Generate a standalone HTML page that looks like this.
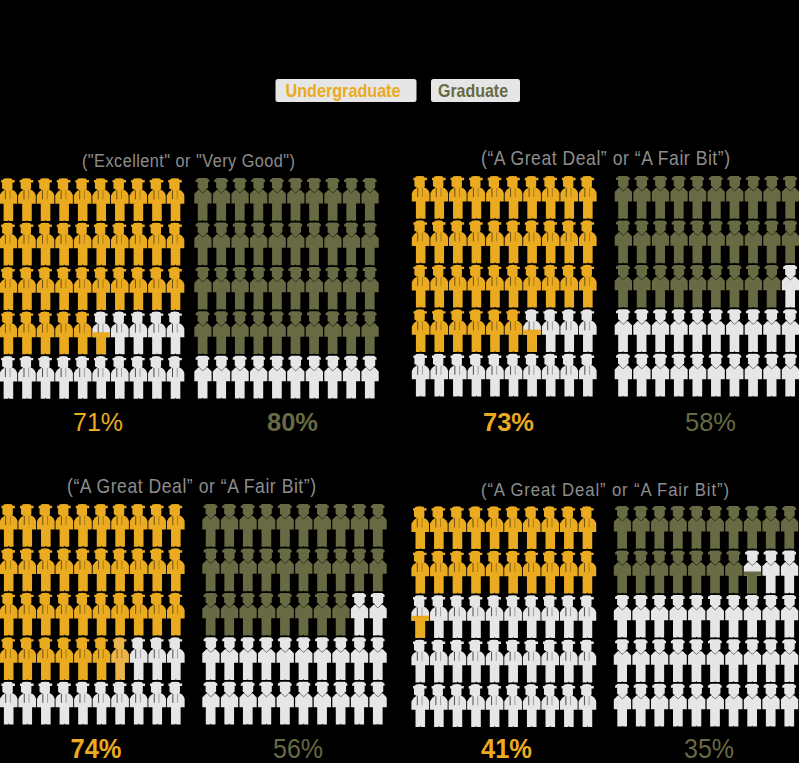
<!DOCTYPE html>
<html><head><meta charset="utf-8"><title>Infographic</title>
<style>
html,body{margin:0;padding:0;background:#000;}
body{width:799px;height:763px;overflow:hidden;}
svg{display:block;}
text{font-family:"Liberation Sans",sans-serif;}
</style></head>
<body>
<svg width="799" height="763" viewBox="0 0 799 763">
<defs>
<path id="ug" d="M4.2,0.3 Q8,-0.5 11.8,0.3 L12.8,1.8 H15 V4.2 H12.8 V10.2 L12,11.8 H5.4 L2.4,10.2 V4.2 H1.4 V1.8 H3 Z M5,11.5 H12.4 Q16.2,12.9 17.5,17 V25.5 H13.5 V42.7 H9.4 L8.75,41.6 L8.1,42.7 H3.9 V25.5 H-0.2 V17.2 Q1.4,13.3 5,11.5 Z"/>
<path id="gr" d="M4.4,0 H12.8 L15.4,1.9 V4 H14.1 V9.7 L10.6,12.6 H7 L3.6,9.7 V4 H1.6 V1.9 Z M4.3,11.8 H13.7 L17.6,15.8 V25.4 H13.5 V42.7 H9.3 L8.7,41.7 L8.1,42.7 H3.8 V25.4 H0.3 V15.8 Z"/>
</defs>
<rect width="799" height="763" fill="#000"/>
<rect x="275.5" y="79" width="141" height="23" rx="2.5" fill="#E6E6E6"/>
<text x="285.50" y="96.50" font-size="18.50" fill="#EAAB20" font-weight="bold" textLength="115.0" lengthAdjust="spacingAndGlyphs">Undergraduate</text>
<rect x="431" y="79" width="89" height="23" rx="2.5" fill="#E6E6E6"/>
<text x="438.00" y="96.50" font-size="18.50" fill="#676A42" font-weight="bold" textLength="70.0" lengthAdjust="spacingAndGlyphs">Graduate</text>
<text transform="translate(82.00,166.75) scale(0.880,1)" x="0" y="0" font-size="18.50" fill="#8D8D8D" font-weight="normal" textLength="242.0" lengthAdjust="spacing">(&quot;Excellent&quot; or &quot;Very Good&quot;)</text>
<text transform="translate(481.00,165.00) scale(0.880,1)" x="0" y="0" font-size="20.00" fill="#8D8D8D" font-weight="normal" textLength="283.0" lengthAdjust="spacing">(“A Great Deal” or “A Fair Bit”)</text>
<text transform="translate(67.00,492.80) scale(0.880,1)" x="0" y="0" font-size="20.00" fill="#8D8D8D" font-weight="normal" textLength="283.0" lengthAdjust="spacing">(“A Great Deal” or “A Fair Bit”)</text>
<text transform="translate(481.00,495.70) scale(0.880,1)" x="0" y="0" font-size="19.00" fill="#8D8D8D" font-weight="normal" textLength="281.8" lengthAdjust="spacing">(“A Great Deal” or “A Fair Bit”)</text>
<use href="#ug" x="-0.30" y="178.30" fill="#EAAB20"/>
<path d="M5.40,190.30 v9" stroke="#000" stroke-opacity="0.6" stroke-width="0.9" fill="none"/><path d="M10.10,190.30 v9" stroke="#000" stroke-opacity="0.3" stroke-width="0.9" fill="none"/>
<use href="#ug" x="18.27" y="178.30" fill="#EAAB20"/>
<path d="M23.97,190.30 v9" stroke="#000" stroke-opacity="0.6" stroke-width="0.9" fill="none"/><path d="M28.67,190.30 v9" stroke="#000" stroke-opacity="0.3" stroke-width="0.9" fill="none"/>
<use href="#ug" x="36.84" y="178.30" fill="#EAAB20"/>
<path d="M42.54,190.30 v9" stroke="#000" stroke-opacity="0.6" stroke-width="0.9" fill="none"/><path d="M47.24,190.30 v9" stroke="#000" stroke-opacity="0.3" stroke-width="0.9" fill="none"/>
<use href="#ug" x="55.41" y="178.30" fill="#EAAB20"/>
<path d="M61.11,190.30 v9" stroke="#000" stroke-opacity="0.6" stroke-width="0.9" fill="none"/><path d="M65.81,190.30 v9" stroke="#000" stroke-opacity="0.3" stroke-width="0.9" fill="none"/>
<use href="#ug" x="73.98" y="178.30" fill="#EAAB20"/>
<path d="M79.68,190.30 v9" stroke="#000" stroke-opacity="0.6" stroke-width="0.9" fill="none"/><path d="M84.38,190.30 v9" stroke="#000" stroke-opacity="0.3" stroke-width="0.9" fill="none"/>
<use href="#ug" x="92.55" y="178.30" fill="#EAAB20"/>
<path d="M98.25,190.30 v9" stroke="#000" stroke-opacity="0.6" stroke-width="0.9" fill="none"/><path d="M102.95,190.30 v9" stroke="#000" stroke-opacity="0.3" stroke-width="0.9" fill="none"/>
<use href="#ug" x="111.12" y="178.30" fill="#EAAB20"/>
<path d="M116.82,190.30 v9" stroke="#000" stroke-opacity="0.6" stroke-width="0.9" fill="none"/><path d="M121.52,190.30 v9" stroke="#000" stroke-opacity="0.3" stroke-width="0.9" fill="none"/>
<use href="#ug" x="129.69" y="178.30" fill="#EAAB20"/>
<path d="M135.39,190.30 v9" stroke="#000" stroke-opacity="0.6" stroke-width="0.9" fill="none"/><path d="M140.09,190.30 v9" stroke="#000" stroke-opacity="0.3" stroke-width="0.9" fill="none"/>
<use href="#ug" x="148.26" y="178.30" fill="#EAAB20"/>
<path d="M153.96,190.30 v9" stroke="#000" stroke-opacity="0.6" stroke-width="0.9" fill="none"/><path d="M158.66,190.30 v9" stroke="#000" stroke-opacity="0.3" stroke-width="0.9" fill="none"/>
<use href="#ug" x="166.83" y="178.30" fill="#EAAB20"/>
<path d="M172.53,190.30 v9" stroke="#000" stroke-opacity="0.6" stroke-width="0.9" fill="none"/><path d="M177.23,190.30 v9" stroke="#000" stroke-opacity="0.3" stroke-width="0.9" fill="none"/>
<use href="#ug" x="-0.30" y="222.75" fill="#EAAB20"/>
<path d="M5.40,234.75 v9" stroke="#000" stroke-opacity="0.6" stroke-width="0.9" fill="none"/><path d="M10.10,234.75 v9" stroke="#000" stroke-opacity="0.3" stroke-width="0.9" fill="none"/>
<use href="#ug" x="18.27" y="222.75" fill="#EAAB20"/>
<path d="M23.97,234.75 v9" stroke="#000" stroke-opacity="0.6" stroke-width="0.9" fill="none"/><path d="M28.67,234.75 v9" stroke="#000" stroke-opacity="0.3" stroke-width="0.9" fill="none"/>
<use href="#ug" x="36.84" y="222.75" fill="#EAAB20"/>
<path d="M42.54,234.75 v9" stroke="#000" stroke-opacity="0.6" stroke-width="0.9" fill="none"/><path d="M47.24,234.75 v9" stroke="#000" stroke-opacity="0.3" stroke-width="0.9" fill="none"/>
<use href="#ug" x="55.41" y="222.75" fill="#EAAB20"/>
<path d="M61.11,234.75 v9" stroke="#000" stroke-opacity="0.6" stroke-width="0.9" fill="none"/><path d="M65.81,234.75 v9" stroke="#000" stroke-opacity="0.3" stroke-width="0.9" fill="none"/>
<use href="#ug" x="73.98" y="222.75" fill="#EAAB20"/>
<path d="M79.68,234.75 v9" stroke="#000" stroke-opacity="0.6" stroke-width="0.9" fill="none"/><path d="M84.38,234.75 v9" stroke="#000" stroke-opacity="0.3" stroke-width="0.9" fill="none"/>
<use href="#ug" x="92.55" y="222.75" fill="#EAAB20"/>
<path d="M98.25,234.75 v9" stroke="#000" stroke-opacity="0.6" stroke-width="0.9" fill="none"/><path d="M102.95,234.75 v9" stroke="#000" stroke-opacity="0.3" stroke-width="0.9" fill="none"/>
<use href="#ug" x="111.12" y="222.75" fill="#EAAB20"/>
<path d="M116.82,234.75 v9" stroke="#000" stroke-opacity="0.6" stroke-width="0.9" fill="none"/><path d="M121.52,234.75 v9" stroke="#000" stroke-opacity="0.3" stroke-width="0.9" fill="none"/>
<use href="#ug" x="129.69" y="222.75" fill="#EAAB20"/>
<path d="M135.39,234.75 v9" stroke="#000" stroke-opacity="0.6" stroke-width="0.9" fill="none"/><path d="M140.09,234.75 v9" stroke="#000" stroke-opacity="0.3" stroke-width="0.9" fill="none"/>
<use href="#ug" x="148.26" y="222.75" fill="#EAAB20"/>
<path d="M153.96,234.75 v9" stroke="#000" stroke-opacity="0.6" stroke-width="0.9" fill="none"/><path d="M158.66,234.75 v9" stroke="#000" stroke-opacity="0.3" stroke-width="0.9" fill="none"/>
<use href="#ug" x="166.83" y="222.75" fill="#EAAB20"/>
<path d="M172.53,234.75 v9" stroke="#000" stroke-opacity="0.6" stroke-width="0.9" fill="none"/><path d="M177.23,234.75 v9" stroke="#000" stroke-opacity="0.3" stroke-width="0.9" fill="none"/>
<use href="#ug" x="-0.30" y="267.20" fill="#EAAB20"/>
<path d="M5.40,279.20 v9" stroke="#000" stroke-opacity="0.6" stroke-width="0.9" fill="none"/><path d="M10.10,279.20 v9" stroke="#000" stroke-opacity="0.3" stroke-width="0.9" fill="none"/>
<use href="#ug" x="18.27" y="267.20" fill="#EAAB20"/>
<path d="M23.97,279.20 v9" stroke="#000" stroke-opacity="0.6" stroke-width="0.9" fill="none"/><path d="M28.67,279.20 v9" stroke="#000" stroke-opacity="0.3" stroke-width="0.9" fill="none"/>
<use href="#ug" x="36.84" y="267.20" fill="#EAAB20"/>
<path d="M42.54,279.20 v9" stroke="#000" stroke-opacity="0.6" stroke-width="0.9" fill="none"/><path d="M47.24,279.20 v9" stroke="#000" stroke-opacity="0.3" stroke-width="0.9" fill="none"/>
<use href="#ug" x="55.41" y="267.20" fill="#EAAB20"/>
<path d="M61.11,279.20 v9" stroke="#000" stroke-opacity="0.6" stroke-width="0.9" fill="none"/><path d="M65.81,279.20 v9" stroke="#000" stroke-opacity="0.3" stroke-width="0.9" fill="none"/>
<use href="#ug" x="73.98" y="267.20" fill="#EAAB20"/>
<path d="M79.68,279.20 v9" stroke="#000" stroke-opacity="0.6" stroke-width="0.9" fill="none"/><path d="M84.38,279.20 v9" stroke="#000" stroke-opacity="0.3" stroke-width="0.9" fill="none"/>
<use href="#ug" x="92.55" y="267.20" fill="#EAAB20"/>
<path d="M98.25,279.20 v9" stroke="#000" stroke-opacity="0.6" stroke-width="0.9" fill="none"/><path d="M102.95,279.20 v9" stroke="#000" stroke-opacity="0.3" stroke-width="0.9" fill="none"/>
<use href="#ug" x="111.12" y="267.20" fill="#EAAB20"/>
<path d="M116.82,279.20 v9" stroke="#000" stroke-opacity="0.6" stroke-width="0.9" fill="none"/><path d="M121.52,279.20 v9" stroke="#000" stroke-opacity="0.3" stroke-width="0.9" fill="none"/>
<use href="#ug" x="129.69" y="267.20" fill="#EAAB20"/>
<path d="M135.39,279.20 v9" stroke="#000" stroke-opacity="0.6" stroke-width="0.9" fill="none"/><path d="M140.09,279.20 v9" stroke="#000" stroke-opacity="0.3" stroke-width="0.9" fill="none"/>
<use href="#ug" x="148.26" y="267.20" fill="#EAAB20"/>
<path d="M153.96,279.20 v9" stroke="#000" stroke-opacity="0.6" stroke-width="0.9" fill="none"/><path d="M158.66,279.20 v9" stroke="#000" stroke-opacity="0.3" stroke-width="0.9" fill="none"/>
<use href="#ug" x="166.83" y="267.20" fill="#EAAB20"/>
<path d="M172.53,279.20 v9" stroke="#000" stroke-opacity="0.6" stroke-width="0.9" fill="none"/><path d="M177.23,279.20 v9" stroke="#000" stroke-opacity="0.3" stroke-width="0.9" fill="none"/>
<use href="#ug" x="-0.30" y="311.65" fill="#EAAB20"/>
<path d="M5.40,323.65 v9" stroke="#000" stroke-opacity="0.6" stroke-width="0.9" fill="none"/><path d="M10.10,323.65 v9" stroke="#000" stroke-opacity="0.3" stroke-width="0.9" fill="none"/>
<use href="#ug" x="18.27" y="311.65" fill="#EAAB20"/>
<path d="M23.97,323.65 v9" stroke="#000" stroke-opacity="0.6" stroke-width="0.9" fill="none"/><path d="M28.67,323.65 v9" stroke="#000" stroke-opacity="0.3" stroke-width="0.9" fill="none"/>
<use href="#ug" x="36.84" y="311.65" fill="#EAAB20"/>
<path d="M42.54,323.65 v9" stroke="#000" stroke-opacity="0.6" stroke-width="0.9" fill="none"/><path d="M47.24,323.65 v9" stroke="#000" stroke-opacity="0.3" stroke-width="0.9" fill="none"/>
<use href="#ug" x="55.41" y="311.65" fill="#EAAB20"/>
<path d="M61.11,323.65 v9" stroke="#000" stroke-opacity="0.6" stroke-width="0.9" fill="none"/><path d="M65.81,323.65 v9" stroke="#000" stroke-opacity="0.3" stroke-width="0.9" fill="none"/>
<use href="#ug" x="73.98" y="311.65" fill="#EAAB20"/>
<path d="M79.68,323.65 v9" stroke="#000" stroke-opacity="0.6" stroke-width="0.9" fill="none"/><path d="M84.38,323.65 v9" stroke="#000" stroke-opacity="0.3" stroke-width="0.9" fill="none"/>
<use href="#ug" x="92.55" y="311.65" fill="#E6E6E6"/>
<clipPath id="cp1"><rect x="90.55" y="332.15" width="22" height="30"/></clipPath>
<g clip-path="url(#cp1)"><use href="#ug" x="92.55" y="311.65" fill="#EAAB20"/></g>
<path d="M98.25,323.65 v9" stroke="#000" stroke-opacity="0.75" stroke-width="0.9" fill="none"/><path d="M102.95,323.65 v9" stroke="#000" stroke-opacity="0.35" stroke-width="0.9" fill="none"/>
<use href="#ug" x="111.12" y="311.65" fill="#E6E6E6"/>
<path d="M116.82,323.65 v9" stroke="#000" stroke-opacity="0.75" stroke-width="0.9" fill="none"/><path d="M121.52,323.65 v9" stroke="#000" stroke-opacity="0.35" stroke-width="0.9" fill="none"/>
<use href="#ug" x="129.69" y="311.65" fill="#E6E6E6"/>
<path d="M135.39,323.65 v9" stroke="#000" stroke-opacity="0.75" stroke-width="0.9" fill="none"/><path d="M140.09,323.65 v9" stroke="#000" stroke-opacity="0.35" stroke-width="0.9" fill="none"/>
<use href="#ug" x="148.26" y="311.65" fill="#E6E6E6"/>
<path d="M153.96,323.65 v9" stroke="#000" stroke-opacity="0.75" stroke-width="0.9" fill="none"/><path d="M158.66,323.65 v9" stroke="#000" stroke-opacity="0.35" stroke-width="0.9" fill="none"/>
<use href="#ug" x="166.83" y="311.65" fill="#E6E6E6"/>
<path d="M172.53,323.65 v9" stroke="#000" stroke-opacity="0.75" stroke-width="0.9" fill="none"/><path d="M177.23,323.65 v9" stroke="#000" stroke-opacity="0.35" stroke-width="0.9" fill="none"/>
<use href="#ug" x="-0.30" y="356.10" fill="#E6E6E6"/>
<path d="M5.40,368.10 v9" stroke="#000" stroke-opacity="0.75" stroke-width="0.9" fill="none"/><path d="M10.10,368.10 v9" stroke="#000" stroke-opacity="0.35" stroke-width="0.9" fill="none"/>
<use href="#ug" x="18.27" y="356.10" fill="#E6E6E6"/>
<path d="M23.97,368.10 v9" stroke="#000" stroke-opacity="0.75" stroke-width="0.9" fill="none"/><path d="M28.67,368.10 v9" stroke="#000" stroke-opacity="0.35" stroke-width="0.9" fill="none"/>
<use href="#ug" x="36.84" y="356.10" fill="#E6E6E6"/>
<path d="M42.54,368.10 v9" stroke="#000" stroke-opacity="0.75" stroke-width="0.9" fill="none"/><path d="M47.24,368.10 v9" stroke="#000" stroke-opacity="0.35" stroke-width="0.9" fill="none"/>
<use href="#ug" x="55.41" y="356.10" fill="#E6E6E6"/>
<path d="M61.11,368.10 v9" stroke="#000" stroke-opacity="0.75" stroke-width="0.9" fill="none"/><path d="M65.81,368.10 v9" stroke="#000" stroke-opacity="0.35" stroke-width="0.9" fill="none"/>
<use href="#ug" x="73.98" y="356.10" fill="#E6E6E6"/>
<path d="M79.68,368.10 v9" stroke="#000" stroke-opacity="0.75" stroke-width="0.9" fill="none"/><path d="M84.38,368.10 v9" stroke="#000" stroke-opacity="0.35" stroke-width="0.9" fill="none"/>
<use href="#ug" x="92.55" y="356.10" fill="#E6E6E6"/>
<path d="M98.25,368.10 v9" stroke="#000" stroke-opacity="0.75" stroke-width="0.9" fill="none"/><path d="M102.95,368.10 v9" stroke="#000" stroke-opacity="0.35" stroke-width="0.9" fill="none"/>
<use href="#ug" x="111.12" y="356.10" fill="#E6E6E6"/>
<path d="M116.82,368.10 v9" stroke="#000" stroke-opacity="0.75" stroke-width="0.9" fill="none"/><path d="M121.52,368.10 v9" stroke="#000" stroke-opacity="0.35" stroke-width="0.9" fill="none"/>
<use href="#ug" x="129.69" y="356.10" fill="#E6E6E6"/>
<path d="M135.39,368.10 v9" stroke="#000" stroke-opacity="0.75" stroke-width="0.9" fill="none"/><path d="M140.09,368.10 v9" stroke="#000" stroke-opacity="0.35" stroke-width="0.9" fill="none"/>
<use href="#ug" x="148.26" y="356.10" fill="#E6E6E6"/>
<path d="M153.96,368.10 v9" stroke="#000" stroke-opacity="0.75" stroke-width="0.9" fill="none"/><path d="M158.66,368.10 v9" stroke="#000" stroke-opacity="0.35" stroke-width="0.9" fill="none"/>
<use href="#ug" x="166.83" y="356.10" fill="#E6E6E6"/>
<path d="M172.53,368.10 v9" stroke="#000" stroke-opacity="0.75" stroke-width="0.9" fill="none"/><path d="M177.23,368.10 v9" stroke="#000" stroke-opacity="0.35" stroke-width="0.9" fill="none"/>
<use href="#gr" x="194.00" y="178.00" fill="#676A42"/>
<path d="M199.60,190.20 L202.80,193.00 L206.00,190.20" stroke="#000" stroke-opacity="0.6" stroke-width="0.8" fill="none"/>
<use href="#gr" x="212.57" y="178.00" fill="#676A42"/>
<path d="M218.17,190.20 L221.37,193.00 L224.57,190.20" stroke="#000" stroke-opacity="0.6" stroke-width="0.8" fill="none"/>
<use href="#gr" x="231.14" y="178.00" fill="#676A42"/>
<path d="M236.74,190.20 L239.94,193.00 L243.14,190.20" stroke="#000" stroke-opacity="0.6" stroke-width="0.8" fill="none"/>
<use href="#gr" x="249.71" y="178.00" fill="#676A42"/>
<path d="M255.31,190.20 L258.51,193.00 L261.71,190.20" stroke="#000" stroke-opacity="0.6" stroke-width="0.8" fill="none"/>
<use href="#gr" x="268.28" y="178.00" fill="#676A42"/>
<path d="M273.88,190.20 L277.08,193.00 L280.28,190.20" stroke="#000" stroke-opacity="0.6" stroke-width="0.8" fill="none"/>
<use href="#gr" x="286.85" y="178.00" fill="#676A42"/>
<path d="M292.45,190.20 L295.65,193.00 L298.85,190.20" stroke="#000" stroke-opacity="0.6" stroke-width="0.8" fill="none"/>
<use href="#gr" x="305.42" y="178.00" fill="#676A42"/>
<path d="M311.02,190.20 L314.22,193.00 L317.42,190.20" stroke="#000" stroke-opacity="0.6" stroke-width="0.8" fill="none"/>
<use href="#gr" x="323.99" y="178.00" fill="#676A42"/>
<path d="M329.59,190.20 L332.79,193.00 L335.99,190.20" stroke="#000" stroke-opacity="0.6" stroke-width="0.8" fill="none"/>
<use href="#gr" x="342.56" y="178.00" fill="#676A42"/>
<path d="M348.16,190.20 L351.36,193.00 L354.56,190.20" stroke="#000" stroke-opacity="0.6" stroke-width="0.8" fill="none"/>
<use href="#gr" x="361.13" y="178.00" fill="#676A42"/>
<path d="M366.73,190.20 L369.93,193.00 L373.13,190.20" stroke="#000" stroke-opacity="0.6" stroke-width="0.8" fill="none"/>
<use href="#gr" x="194.00" y="222.45" fill="#676A42"/>
<path d="M199.60,234.65 L202.80,237.45 L206.00,234.65" stroke="#000" stroke-opacity="0.6" stroke-width="0.8" fill="none"/>
<use href="#gr" x="212.57" y="222.45" fill="#676A42"/>
<path d="M218.17,234.65 L221.37,237.45 L224.57,234.65" stroke="#000" stroke-opacity="0.6" stroke-width="0.8" fill="none"/>
<use href="#gr" x="231.14" y="222.45" fill="#676A42"/>
<path d="M236.74,234.65 L239.94,237.45 L243.14,234.65" stroke="#000" stroke-opacity="0.6" stroke-width="0.8" fill="none"/>
<use href="#gr" x="249.71" y="222.45" fill="#676A42"/>
<path d="M255.31,234.65 L258.51,237.45 L261.71,234.65" stroke="#000" stroke-opacity="0.6" stroke-width="0.8" fill="none"/>
<use href="#gr" x="268.28" y="222.45" fill="#676A42"/>
<path d="M273.88,234.65 L277.08,237.45 L280.28,234.65" stroke="#000" stroke-opacity="0.6" stroke-width="0.8" fill="none"/>
<use href="#gr" x="286.85" y="222.45" fill="#676A42"/>
<path d="M292.45,234.65 L295.65,237.45 L298.85,234.65" stroke="#000" stroke-opacity="0.6" stroke-width="0.8" fill="none"/>
<use href="#gr" x="305.42" y="222.45" fill="#676A42"/>
<path d="M311.02,234.65 L314.22,237.45 L317.42,234.65" stroke="#000" stroke-opacity="0.6" stroke-width="0.8" fill="none"/>
<use href="#gr" x="323.99" y="222.45" fill="#676A42"/>
<path d="M329.59,234.65 L332.79,237.45 L335.99,234.65" stroke="#000" stroke-opacity="0.6" stroke-width="0.8" fill="none"/>
<use href="#gr" x="342.56" y="222.45" fill="#676A42"/>
<path d="M348.16,234.65 L351.36,237.45 L354.56,234.65" stroke="#000" stroke-opacity="0.6" stroke-width="0.8" fill="none"/>
<use href="#gr" x="361.13" y="222.45" fill="#676A42"/>
<path d="M366.73,234.65 L369.93,237.45 L373.13,234.65" stroke="#000" stroke-opacity="0.6" stroke-width="0.8" fill="none"/>
<use href="#gr" x="194.00" y="266.90" fill="#676A42"/>
<path d="M199.60,279.10 L202.80,281.90 L206.00,279.10" stroke="#000" stroke-opacity="0.6" stroke-width="0.8" fill="none"/>
<use href="#gr" x="212.57" y="266.90" fill="#676A42"/>
<path d="M218.17,279.10 L221.37,281.90 L224.57,279.10" stroke="#000" stroke-opacity="0.6" stroke-width="0.8" fill="none"/>
<use href="#gr" x="231.14" y="266.90" fill="#676A42"/>
<path d="M236.74,279.10 L239.94,281.90 L243.14,279.10" stroke="#000" stroke-opacity="0.6" stroke-width="0.8" fill="none"/>
<use href="#gr" x="249.71" y="266.90" fill="#676A42"/>
<path d="M255.31,279.10 L258.51,281.90 L261.71,279.10" stroke="#000" stroke-opacity="0.6" stroke-width="0.8" fill="none"/>
<use href="#gr" x="268.28" y="266.90" fill="#676A42"/>
<path d="M273.88,279.10 L277.08,281.90 L280.28,279.10" stroke="#000" stroke-opacity="0.6" stroke-width="0.8" fill="none"/>
<use href="#gr" x="286.85" y="266.90" fill="#676A42"/>
<path d="M292.45,279.10 L295.65,281.90 L298.85,279.10" stroke="#000" stroke-opacity="0.6" stroke-width="0.8" fill="none"/>
<use href="#gr" x="305.42" y="266.90" fill="#676A42"/>
<path d="M311.02,279.10 L314.22,281.90 L317.42,279.10" stroke="#000" stroke-opacity="0.6" stroke-width="0.8" fill="none"/>
<use href="#gr" x="323.99" y="266.90" fill="#676A42"/>
<path d="M329.59,279.10 L332.79,281.90 L335.99,279.10" stroke="#000" stroke-opacity="0.6" stroke-width="0.8" fill="none"/>
<use href="#gr" x="342.56" y="266.90" fill="#676A42"/>
<path d="M348.16,279.10 L351.36,281.90 L354.56,279.10" stroke="#000" stroke-opacity="0.6" stroke-width="0.8" fill="none"/>
<use href="#gr" x="361.13" y="266.90" fill="#676A42"/>
<path d="M366.73,279.10 L369.93,281.90 L373.13,279.10" stroke="#000" stroke-opacity="0.6" stroke-width="0.8" fill="none"/>
<use href="#gr" x="194.00" y="311.35" fill="#676A42"/>
<path d="M199.60,323.55 L202.80,326.35 L206.00,323.55" stroke="#000" stroke-opacity="0.6" stroke-width="0.8" fill="none"/>
<use href="#gr" x="212.57" y="311.35" fill="#676A42"/>
<path d="M218.17,323.55 L221.37,326.35 L224.57,323.55" stroke="#000" stroke-opacity="0.6" stroke-width="0.8" fill="none"/>
<use href="#gr" x="231.14" y="311.35" fill="#676A42"/>
<path d="M236.74,323.55 L239.94,326.35 L243.14,323.55" stroke="#000" stroke-opacity="0.6" stroke-width="0.8" fill="none"/>
<use href="#gr" x="249.71" y="311.35" fill="#676A42"/>
<path d="M255.31,323.55 L258.51,326.35 L261.71,323.55" stroke="#000" stroke-opacity="0.6" stroke-width="0.8" fill="none"/>
<use href="#gr" x="268.28" y="311.35" fill="#676A42"/>
<path d="M273.88,323.55 L277.08,326.35 L280.28,323.55" stroke="#000" stroke-opacity="0.6" stroke-width="0.8" fill="none"/>
<use href="#gr" x="286.85" y="311.35" fill="#676A42"/>
<path d="M292.45,323.55 L295.65,326.35 L298.85,323.55" stroke="#000" stroke-opacity="0.6" stroke-width="0.8" fill="none"/>
<use href="#gr" x="305.42" y="311.35" fill="#676A42"/>
<path d="M311.02,323.55 L314.22,326.35 L317.42,323.55" stroke="#000" stroke-opacity="0.6" stroke-width="0.8" fill="none"/>
<use href="#gr" x="323.99" y="311.35" fill="#676A42"/>
<path d="M329.59,323.55 L332.79,326.35 L335.99,323.55" stroke="#000" stroke-opacity="0.6" stroke-width="0.8" fill="none"/>
<use href="#gr" x="342.56" y="311.35" fill="#676A42"/>
<path d="M348.16,323.55 L351.36,326.35 L354.56,323.55" stroke="#000" stroke-opacity="0.6" stroke-width="0.8" fill="none"/>
<use href="#gr" x="361.13" y="311.35" fill="#676A42"/>
<path d="M366.73,323.55 L369.93,326.35 L373.13,323.55" stroke="#000" stroke-opacity="0.6" stroke-width="0.8" fill="none"/>
<use href="#gr" x="194.00" y="355.80" fill="#E6E6E6"/>
<path d="M199.60,368.00 L202.80,370.80 L206.00,368.00" stroke="#000" stroke-opacity="0.6" stroke-width="0.8" fill="none"/>
<use href="#gr" x="212.57" y="355.80" fill="#E6E6E6"/>
<path d="M218.17,368.00 L221.37,370.80 L224.57,368.00" stroke="#000" stroke-opacity="0.6" stroke-width="0.8" fill="none"/>
<use href="#gr" x="231.14" y="355.80" fill="#E6E6E6"/>
<path d="M236.74,368.00 L239.94,370.80 L243.14,368.00" stroke="#000" stroke-opacity="0.6" stroke-width="0.8" fill="none"/>
<use href="#gr" x="249.71" y="355.80" fill="#E6E6E6"/>
<path d="M255.31,368.00 L258.51,370.80 L261.71,368.00" stroke="#000" stroke-opacity="0.6" stroke-width="0.8" fill="none"/>
<use href="#gr" x="268.28" y="355.80" fill="#E6E6E6"/>
<path d="M273.88,368.00 L277.08,370.80 L280.28,368.00" stroke="#000" stroke-opacity="0.6" stroke-width="0.8" fill="none"/>
<use href="#gr" x="286.85" y="355.80" fill="#E6E6E6"/>
<path d="M292.45,368.00 L295.65,370.80 L298.85,368.00" stroke="#000" stroke-opacity="0.6" stroke-width="0.8" fill="none"/>
<use href="#gr" x="305.42" y="355.80" fill="#E6E6E6"/>
<path d="M311.02,368.00 L314.22,370.80 L317.42,368.00" stroke="#000" stroke-opacity="0.6" stroke-width="0.8" fill="none"/>
<use href="#gr" x="323.99" y="355.80" fill="#E6E6E6"/>
<path d="M329.59,368.00 L332.79,370.80 L335.99,368.00" stroke="#000" stroke-opacity="0.6" stroke-width="0.8" fill="none"/>
<use href="#gr" x="342.56" y="355.80" fill="#E6E6E6"/>
<path d="M348.16,368.00 L351.36,370.80 L354.56,368.00" stroke="#000" stroke-opacity="0.6" stroke-width="0.8" fill="none"/>
<use href="#gr" x="361.13" y="355.80" fill="#E6E6E6"/>
<path d="M366.73,368.00 L369.93,370.80 L373.13,368.00" stroke="#000" stroke-opacity="0.6" stroke-width="0.8" fill="none"/>
<use href="#ug" x="412.00" y="176.00" fill="#EAAB20"/>
<path d="M417.70,188.00 v9" stroke="#000" stroke-opacity="0.6" stroke-width="0.9" fill="none"/><path d="M422.40,188.00 v9" stroke="#000" stroke-opacity="0.3" stroke-width="0.9" fill="none"/>
<use href="#ug" x="430.57" y="176.00" fill="#EAAB20"/>
<path d="M436.27,188.00 v9" stroke="#000" stroke-opacity="0.6" stroke-width="0.9" fill="none"/><path d="M440.97,188.00 v9" stroke="#000" stroke-opacity="0.3" stroke-width="0.9" fill="none"/>
<use href="#ug" x="449.14" y="176.00" fill="#EAAB20"/>
<path d="M454.84,188.00 v9" stroke="#000" stroke-opacity="0.6" stroke-width="0.9" fill="none"/><path d="M459.54,188.00 v9" stroke="#000" stroke-opacity="0.3" stroke-width="0.9" fill="none"/>
<use href="#ug" x="467.71" y="176.00" fill="#EAAB20"/>
<path d="M473.41,188.00 v9" stroke="#000" stroke-opacity="0.6" stroke-width="0.9" fill="none"/><path d="M478.11,188.00 v9" stroke="#000" stroke-opacity="0.3" stroke-width="0.9" fill="none"/>
<use href="#ug" x="486.28" y="176.00" fill="#EAAB20"/>
<path d="M491.98,188.00 v9" stroke="#000" stroke-opacity="0.6" stroke-width="0.9" fill="none"/><path d="M496.68,188.00 v9" stroke="#000" stroke-opacity="0.3" stroke-width="0.9" fill="none"/>
<use href="#ug" x="504.85" y="176.00" fill="#EAAB20"/>
<path d="M510.55,188.00 v9" stroke="#000" stroke-opacity="0.6" stroke-width="0.9" fill="none"/><path d="M515.25,188.00 v9" stroke="#000" stroke-opacity="0.3" stroke-width="0.9" fill="none"/>
<use href="#ug" x="523.42" y="176.00" fill="#EAAB20"/>
<path d="M529.12,188.00 v9" stroke="#000" stroke-opacity="0.6" stroke-width="0.9" fill="none"/><path d="M533.82,188.00 v9" stroke="#000" stroke-opacity="0.3" stroke-width="0.9" fill="none"/>
<use href="#ug" x="541.99" y="176.00" fill="#EAAB20"/>
<path d="M547.69,188.00 v9" stroke="#000" stroke-opacity="0.6" stroke-width="0.9" fill="none"/><path d="M552.39,188.00 v9" stroke="#000" stroke-opacity="0.3" stroke-width="0.9" fill="none"/>
<use href="#ug" x="560.56" y="176.00" fill="#EAAB20"/>
<path d="M566.26,188.00 v9" stroke="#000" stroke-opacity="0.6" stroke-width="0.9" fill="none"/><path d="M570.96,188.00 v9" stroke="#000" stroke-opacity="0.3" stroke-width="0.9" fill="none"/>
<use href="#ug" x="579.13" y="176.00" fill="#EAAB20"/>
<path d="M584.83,188.00 v9" stroke="#000" stroke-opacity="0.6" stroke-width="0.9" fill="none"/><path d="M589.53,188.00 v9" stroke="#000" stroke-opacity="0.3" stroke-width="0.9" fill="none"/>
<use href="#ug" x="412.00" y="220.45" fill="#EAAB20"/>
<path d="M417.70,232.45 v9" stroke="#000" stroke-opacity="0.6" stroke-width="0.9" fill="none"/><path d="M422.40,232.45 v9" stroke="#000" stroke-opacity="0.3" stroke-width="0.9" fill="none"/>
<use href="#ug" x="430.57" y="220.45" fill="#EAAB20"/>
<path d="M436.27,232.45 v9" stroke="#000" stroke-opacity="0.6" stroke-width="0.9" fill="none"/><path d="M440.97,232.45 v9" stroke="#000" stroke-opacity="0.3" stroke-width="0.9" fill="none"/>
<use href="#ug" x="449.14" y="220.45" fill="#EAAB20"/>
<path d="M454.84,232.45 v9" stroke="#000" stroke-opacity="0.6" stroke-width="0.9" fill="none"/><path d="M459.54,232.45 v9" stroke="#000" stroke-opacity="0.3" stroke-width="0.9" fill="none"/>
<use href="#ug" x="467.71" y="220.45" fill="#EAAB20"/>
<path d="M473.41,232.45 v9" stroke="#000" stroke-opacity="0.6" stroke-width="0.9" fill="none"/><path d="M478.11,232.45 v9" stroke="#000" stroke-opacity="0.3" stroke-width="0.9" fill="none"/>
<use href="#ug" x="486.28" y="220.45" fill="#EAAB20"/>
<path d="M491.98,232.45 v9" stroke="#000" stroke-opacity="0.6" stroke-width="0.9" fill="none"/><path d="M496.68,232.45 v9" stroke="#000" stroke-opacity="0.3" stroke-width="0.9" fill="none"/>
<use href="#ug" x="504.85" y="220.45" fill="#EAAB20"/>
<path d="M510.55,232.45 v9" stroke="#000" stroke-opacity="0.6" stroke-width="0.9" fill="none"/><path d="M515.25,232.45 v9" stroke="#000" stroke-opacity="0.3" stroke-width="0.9" fill="none"/>
<use href="#ug" x="523.42" y="220.45" fill="#EAAB20"/>
<path d="M529.12,232.45 v9" stroke="#000" stroke-opacity="0.6" stroke-width="0.9" fill="none"/><path d="M533.82,232.45 v9" stroke="#000" stroke-opacity="0.3" stroke-width="0.9" fill="none"/>
<use href="#ug" x="541.99" y="220.45" fill="#EAAB20"/>
<path d="M547.69,232.45 v9" stroke="#000" stroke-opacity="0.6" stroke-width="0.9" fill="none"/><path d="M552.39,232.45 v9" stroke="#000" stroke-opacity="0.3" stroke-width="0.9" fill="none"/>
<use href="#ug" x="560.56" y="220.45" fill="#EAAB20"/>
<path d="M566.26,232.45 v9" stroke="#000" stroke-opacity="0.6" stroke-width="0.9" fill="none"/><path d="M570.96,232.45 v9" stroke="#000" stroke-opacity="0.3" stroke-width="0.9" fill="none"/>
<use href="#ug" x="579.13" y="220.45" fill="#EAAB20"/>
<path d="M584.83,232.45 v9" stroke="#000" stroke-opacity="0.6" stroke-width="0.9" fill="none"/><path d="M589.53,232.45 v9" stroke="#000" stroke-opacity="0.3" stroke-width="0.9" fill="none"/>
<use href="#ug" x="412.00" y="264.90" fill="#EAAB20"/>
<path d="M417.70,276.90 v9" stroke="#000" stroke-opacity="0.6" stroke-width="0.9" fill="none"/><path d="M422.40,276.90 v9" stroke="#000" stroke-opacity="0.3" stroke-width="0.9" fill="none"/>
<use href="#ug" x="430.57" y="264.90" fill="#EAAB20"/>
<path d="M436.27,276.90 v9" stroke="#000" stroke-opacity="0.6" stroke-width="0.9" fill="none"/><path d="M440.97,276.90 v9" stroke="#000" stroke-opacity="0.3" stroke-width="0.9" fill="none"/>
<use href="#ug" x="449.14" y="264.90" fill="#EAAB20"/>
<path d="M454.84,276.90 v9" stroke="#000" stroke-opacity="0.6" stroke-width="0.9" fill="none"/><path d="M459.54,276.90 v9" stroke="#000" stroke-opacity="0.3" stroke-width="0.9" fill="none"/>
<use href="#ug" x="467.71" y="264.90" fill="#EAAB20"/>
<path d="M473.41,276.90 v9" stroke="#000" stroke-opacity="0.6" stroke-width="0.9" fill="none"/><path d="M478.11,276.90 v9" stroke="#000" stroke-opacity="0.3" stroke-width="0.9" fill="none"/>
<use href="#ug" x="486.28" y="264.90" fill="#EAAB20"/>
<path d="M491.98,276.90 v9" stroke="#000" stroke-opacity="0.6" stroke-width="0.9" fill="none"/><path d="M496.68,276.90 v9" stroke="#000" stroke-opacity="0.3" stroke-width="0.9" fill="none"/>
<use href="#ug" x="504.85" y="264.90" fill="#EAAB20"/>
<path d="M510.55,276.90 v9" stroke="#000" stroke-opacity="0.6" stroke-width="0.9" fill="none"/><path d="M515.25,276.90 v9" stroke="#000" stroke-opacity="0.3" stroke-width="0.9" fill="none"/>
<use href="#ug" x="523.42" y="264.90" fill="#EAAB20"/>
<path d="M529.12,276.90 v9" stroke="#000" stroke-opacity="0.6" stroke-width="0.9" fill="none"/><path d="M533.82,276.90 v9" stroke="#000" stroke-opacity="0.3" stroke-width="0.9" fill="none"/>
<use href="#ug" x="541.99" y="264.90" fill="#EAAB20"/>
<path d="M547.69,276.90 v9" stroke="#000" stroke-opacity="0.6" stroke-width="0.9" fill="none"/><path d="M552.39,276.90 v9" stroke="#000" stroke-opacity="0.3" stroke-width="0.9" fill="none"/>
<use href="#ug" x="560.56" y="264.90" fill="#EAAB20"/>
<path d="M566.26,276.90 v9" stroke="#000" stroke-opacity="0.6" stroke-width="0.9" fill="none"/><path d="M570.96,276.90 v9" stroke="#000" stroke-opacity="0.3" stroke-width="0.9" fill="none"/>
<use href="#ug" x="579.13" y="264.90" fill="#EAAB20"/>
<path d="M584.83,276.90 v9" stroke="#000" stroke-opacity="0.6" stroke-width="0.9" fill="none"/><path d="M589.53,276.90 v9" stroke="#000" stroke-opacity="0.3" stroke-width="0.9" fill="none"/>
<use href="#ug" x="412.00" y="309.35" fill="#EAAB20"/>
<path d="M417.70,321.35 v9" stroke="#000" stroke-opacity="0.6" stroke-width="0.9" fill="none"/><path d="M422.40,321.35 v9" stroke="#000" stroke-opacity="0.3" stroke-width="0.9" fill="none"/>
<use href="#ug" x="430.57" y="309.35" fill="#EAAB20"/>
<path d="M436.27,321.35 v9" stroke="#000" stroke-opacity="0.6" stroke-width="0.9" fill="none"/><path d="M440.97,321.35 v9" stroke="#000" stroke-opacity="0.3" stroke-width="0.9" fill="none"/>
<use href="#ug" x="449.14" y="309.35" fill="#EAAB20"/>
<path d="M454.84,321.35 v9" stroke="#000" stroke-opacity="0.6" stroke-width="0.9" fill="none"/><path d="M459.54,321.35 v9" stroke="#000" stroke-opacity="0.3" stroke-width="0.9" fill="none"/>
<use href="#ug" x="467.71" y="309.35" fill="#EAAB20"/>
<path d="M473.41,321.35 v9" stroke="#000" stroke-opacity="0.6" stroke-width="0.9" fill="none"/><path d="M478.11,321.35 v9" stroke="#000" stroke-opacity="0.3" stroke-width="0.9" fill="none"/>
<use href="#ug" x="486.28" y="309.35" fill="#EAAB20"/>
<path d="M491.98,321.35 v9" stroke="#000" stroke-opacity="0.6" stroke-width="0.9" fill="none"/><path d="M496.68,321.35 v9" stroke="#000" stroke-opacity="0.3" stroke-width="0.9" fill="none"/>
<use href="#ug" x="504.85" y="309.35" fill="#EAAB20"/>
<path d="M510.55,321.35 v9" stroke="#000" stroke-opacity="0.6" stroke-width="0.9" fill="none"/><path d="M515.25,321.35 v9" stroke="#000" stroke-opacity="0.3" stroke-width="0.9" fill="none"/>
<use href="#ug" x="523.42" y="309.35" fill="#E6E6E6"/>
<clipPath id="cp2"><rect x="521.42" y="329.85" width="22" height="30"/></clipPath>
<g clip-path="url(#cp2)"><use href="#ug" x="523.42" y="309.35" fill="#EAAB20"/></g>
<path d="M529.12,321.35 v9" stroke="#000" stroke-opacity="0.75" stroke-width="0.9" fill="none"/><path d="M533.82,321.35 v9" stroke="#000" stroke-opacity="0.35" stroke-width="0.9" fill="none"/>
<use href="#ug" x="541.99" y="309.35" fill="#E6E6E6"/>
<path d="M547.69,321.35 v9" stroke="#000" stroke-opacity="0.75" stroke-width="0.9" fill="none"/><path d="M552.39,321.35 v9" stroke="#000" stroke-opacity="0.35" stroke-width="0.9" fill="none"/>
<use href="#ug" x="560.56" y="309.35" fill="#E6E6E6"/>
<path d="M566.26,321.35 v9" stroke="#000" stroke-opacity="0.75" stroke-width="0.9" fill="none"/><path d="M570.96,321.35 v9" stroke="#000" stroke-opacity="0.35" stroke-width="0.9" fill="none"/>
<use href="#ug" x="579.13" y="309.35" fill="#E6E6E6"/>
<path d="M584.83,321.35 v9" stroke="#000" stroke-opacity="0.75" stroke-width="0.9" fill="none"/><path d="M589.53,321.35 v9" stroke="#000" stroke-opacity="0.35" stroke-width="0.9" fill="none"/>
<use href="#ug" x="412.00" y="353.80" fill="#E6E6E6"/>
<path d="M417.70,365.80 v9" stroke="#000" stroke-opacity="0.75" stroke-width="0.9" fill="none"/><path d="M422.40,365.80 v9" stroke="#000" stroke-opacity="0.35" stroke-width="0.9" fill="none"/>
<use href="#ug" x="430.57" y="353.80" fill="#E6E6E6"/>
<path d="M436.27,365.80 v9" stroke="#000" stroke-opacity="0.75" stroke-width="0.9" fill="none"/><path d="M440.97,365.80 v9" stroke="#000" stroke-opacity="0.35" stroke-width="0.9" fill="none"/>
<use href="#ug" x="449.14" y="353.80" fill="#E6E6E6"/>
<path d="M454.84,365.80 v9" stroke="#000" stroke-opacity="0.75" stroke-width="0.9" fill="none"/><path d="M459.54,365.80 v9" stroke="#000" stroke-opacity="0.35" stroke-width="0.9" fill="none"/>
<use href="#ug" x="467.71" y="353.80" fill="#E6E6E6"/>
<path d="M473.41,365.80 v9" stroke="#000" stroke-opacity="0.75" stroke-width="0.9" fill="none"/><path d="M478.11,365.80 v9" stroke="#000" stroke-opacity="0.35" stroke-width="0.9" fill="none"/>
<use href="#ug" x="486.28" y="353.80" fill="#E6E6E6"/>
<path d="M491.98,365.80 v9" stroke="#000" stroke-opacity="0.75" stroke-width="0.9" fill="none"/><path d="M496.68,365.80 v9" stroke="#000" stroke-opacity="0.35" stroke-width="0.9" fill="none"/>
<use href="#ug" x="504.85" y="353.80" fill="#E6E6E6"/>
<path d="M510.55,365.80 v9" stroke="#000" stroke-opacity="0.75" stroke-width="0.9" fill="none"/><path d="M515.25,365.80 v9" stroke="#000" stroke-opacity="0.35" stroke-width="0.9" fill="none"/>
<use href="#ug" x="523.42" y="353.80" fill="#E6E6E6"/>
<path d="M529.12,365.80 v9" stroke="#000" stroke-opacity="0.75" stroke-width="0.9" fill="none"/><path d="M533.82,365.80 v9" stroke="#000" stroke-opacity="0.35" stroke-width="0.9" fill="none"/>
<use href="#ug" x="541.99" y="353.80" fill="#E6E6E6"/>
<path d="M547.69,365.80 v9" stroke="#000" stroke-opacity="0.75" stroke-width="0.9" fill="none"/><path d="M552.39,365.80 v9" stroke="#000" stroke-opacity="0.35" stroke-width="0.9" fill="none"/>
<use href="#ug" x="560.56" y="353.80" fill="#E6E6E6"/>
<path d="M566.26,365.80 v9" stroke="#000" stroke-opacity="0.75" stroke-width="0.9" fill="none"/><path d="M570.96,365.80 v9" stroke="#000" stroke-opacity="0.35" stroke-width="0.9" fill="none"/>
<use href="#ug" x="579.13" y="353.80" fill="#E6E6E6"/>
<path d="M584.83,365.80 v9" stroke="#000" stroke-opacity="0.75" stroke-width="0.9" fill="none"/><path d="M589.53,365.80 v9" stroke="#000" stroke-opacity="0.35" stroke-width="0.9" fill="none"/>
<use href="#gr" x="614.40" y="176.00" fill="#676A42"/>
<path d="M620.00,188.20 L623.20,191.00 L626.40,188.20" stroke="#000" stroke-opacity="0.6" stroke-width="0.8" fill="none"/>
<use href="#gr" x="632.97" y="176.00" fill="#676A42"/>
<path d="M638.57,188.20 L641.77,191.00 L644.97,188.20" stroke="#000" stroke-opacity="0.6" stroke-width="0.8" fill="none"/>
<use href="#gr" x="651.54" y="176.00" fill="#676A42"/>
<path d="M657.14,188.20 L660.34,191.00 L663.54,188.20" stroke="#000" stroke-opacity="0.6" stroke-width="0.8" fill="none"/>
<use href="#gr" x="670.11" y="176.00" fill="#676A42"/>
<path d="M675.71,188.20 L678.91,191.00 L682.11,188.20" stroke="#000" stroke-opacity="0.6" stroke-width="0.8" fill="none"/>
<use href="#gr" x="688.68" y="176.00" fill="#676A42"/>
<path d="M694.28,188.20 L697.48,191.00 L700.68,188.20" stroke="#000" stroke-opacity="0.6" stroke-width="0.8" fill="none"/>
<use href="#gr" x="707.25" y="176.00" fill="#676A42"/>
<path d="M712.85,188.20 L716.05,191.00 L719.25,188.20" stroke="#000" stroke-opacity="0.6" stroke-width="0.8" fill="none"/>
<use href="#gr" x="725.82" y="176.00" fill="#676A42"/>
<path d="M731.42,188.20 L734.62,191.00 L737.82,188.20" stroke="#000" stroke-opacity="0.6" stroke-width="0.8" fill="none"/>
<use href="#gr" x="744.39" y="176.00" fill="#676A42"/>
<path d="M749.99,188.20 L753.19,191.00 L756.39,188.20" stroke="#000" stroke-opacity="0.6" stroke-width="0.8" fill="none"/>
<use href="#gr" x="762.96" y="176.00" fill="#676A42"/>
<path d="M768.56,188.20 L771.76,191.00 L774.96,188.20" stroke="#000" stroke-opacity="0.6" stroke-width="0.8" fill="none"/>
<use href="#gr" x="781.53" y="176.00" fill="#676A42"/>
<path d="M787.13,188.20 L790.33,191.00 L793.53,188.20" stroke="#000" stroke-opacity="0.6" stroke-width="0.8" fill="none"/>
<use href="#gr" x="614.40" y="220.45" fill="#676A42"/>
<path d="M620.00,232.65 L623.20,235.45 L626.40,232.65" stroke="#000" stroke-opacity="0.6" stroke-width="0.8" fill="none"/>
<use href="#gr" x="632.97" y="220.45" fill="#676A42"/>
<path d="M638.57,232.65 L641.77,235.45 L644.97,232.65" stroke="#000" stroke-opacity="0.6" stroke-width="0.8" fill="none"/>
<use href="#gr" x="651.54" y="220.45" fill="#676A42"/>
<path d="M657.14,232.65 L660.34,235.45 L663.54,232.65" stroke="#000" stroke-opacity="0.6" stroke-width="0.8" fill="none"/>
<use href="#gr" x="670.11" y="220.45" fill="#676A42"/>
<path d="M675.71,232.65 L678.91,235.45 L682.11,232.65" stroke="#000" stroke-opacity="0.6" stroke-width="0.8" fill="none"/>
<use href="#gr" x="688.68" y="220.45" fill="#676A42"/>
<path d="M694.28,232.65 L697.48,235.45 L700.68,232.65" stroke="#000" stroke-opacity="0.6" stroke-width="0.8" fill="none"/>
<use href="#gr" x="707.25" y="220.45" fill="#676A42"/>
<path d="M712.85,232.65 L716.05,235.45 L719.25,232.65" stroke="#000" stroke-opacity="0.6" stroke-width="0.8" fill="none"/>
<use href="#gr" x="725.82" y="220.45" fill="#676A42"/>
<path d="M731.42,232.65 L734.62,235.45 L737.82,232.65" stroke="#000" stroke-opacity="0.6" stroke-width="0.8" fill="none"/>
<use href="#gr" x="744.39" y="220.45" fill="#676A42"/>
<path d="M749.99,232.65 L753.19,235.45 L756.39,232.65" stroke="#000" stroke-opacity="0.6" stroke-width="0.8" fill="none"/>
<use href="#gr" x="762.96" y="220.45" fill="#676A42"/>
<path d="M768.56,232.65 L771.76,235.45 L774.96,232.65" stroke="#000" stroke-opacity="0.6" stroke-width="0.8" fill="none"/>
<use href="#gr" x="781.53" y="220.45" fill="#676A42"/>
<path d="M787.13,232.65 L790.33,235.45 L793.53,232.65" stroke="#000" stroke-opacity="0.6" stroke-width="0.8" fill="none"/>
<use href="#gr" x="614.40" y="264.90" fill="#676A42"/>
<path d="M620.00,277.10 L623.20,279.90 L626.40,277.10" stroke="#000" stroke-opacity="0.6" stroke-width="0.8" fill="none"/>
<use href="#gr" x="632.97" y="264.90" fill="#676A42"/>
<path d="M638.57,277.10 L641.77,279.90 L644.97,277.10" stroke="#000" stroke-opacity="0.6" stroke-width="0.8" fill="none"/>
<use href="#gr" x="651.54" y="264.90" fill="#676A42"/>
<path d="M657.14,277.10 L660.34,279.90 L663.54,277.10" stroke="#000" stroke-opacity="0.6" stroke-width="0.8" fill="none"/>
<use href="#gr" x="670.11" y="264.90" fill="#676A42"/>
<path d="M675.71,277.10 L678.91,279.90 L682.11,277.10" stroke="#000" stroke-opacity="0.6" stroke-width="0.8" fill="none"/>
<use href="#gr" x="688.68" y="264.90" fill="#676A42"/>
<path d="M694.28,277.10 L697.48,279.90 L700.68,277.10" stroke="#000" stroke-opacity="0.6" stroke-width="0.8" fill="none"/>
<use href="#gr" x="707.25" y="264.90" fill="#676A42"/>
<path d="M712.85,277.10 L716.05,279.90 L719.25,277.10" stroke="#000" stroke-opacity="0.6" stroke-width="0.8" fill="none"/>
<use href="#gr" x="725.82" y="264.90" fill="#676A42"/>
<path d="M731.42,277.10 L734.62,279.90 L737.82,277.10" stroke="#000" stroke-opacity="0.6" stroke-width="0.8" fill="none"/>
<use href="#gr" x="744.39" y="264.90" fill="#676A42"/>
<path d="M749.99,277.10 L753.19,279.90 L756.39,277.10" stroke="#000" stroke-opacity="0.6" stroke-width="0.8" fill="none"/>
<use href="#gr" x="762.96" y="264.90" fill="#676A42"/>
<path d="M768.56,277.10 L771.76,279.90 L774.96,277.10" stroke="#000" stroke-opacity="0.6" stroke-width="0.8" fill="none"/>
<use href="#gr" x="781.53" y="264.90" fill="#E6E6E6"/>
<path d="M787.13,277.10 L790.33,279.90 L793.53,277.10" stroke="#000" stroke-opacity="0.6" stroke-width="0.8" fill="none"/>
<use href="#gr" x="614.40" y="309.35" fill="#E6E6E6"/>
<path d="M620.00,321.55 L623.20,324.35 L626.40,321.55" stroke="#000" stroke-opacity="0.6" stroke-width="0.8" fill="none"/>
<use href="#gr" x="632.97" y="309.35" fill="#E6E6E6"/>
<path d="M638.57,321.55 L641.77,324.35 L644.97,321.55" stroke="#000" stroke-opacity="0.6" stroke-width="0.8" fill="none"/>
<use href="#gr" x="651.54" y="309.35" fill="#E6E6E6"/>
<path d="M657.14,321.55 L660.34,324.35 L663.54,321.55" stroke="#000" stroke-opacity="0.6" stroke-width="0.8" fill="none"/>
<use href="#gr" x="670.11" y="309.35" fill="#E6E6E6"/>
<path d="M675.71,321.55 L678.91,324.35 L682.11,321.55" stroke="#000" stroke-opacity="0.6" stroke-width="0.8" fill="none"/>
<use href="#gr" x="688.68" y="309.35" fill="#E6E6E6"/>
<path d="M694.28,321.55 L697.48,324.35 L700.68,321.55" stroke="#000" stroke-opacity="0.6" stroke-width="0.8" fill="none"/>
<use href="#gr" x="707.25" y="309.35" fill="#E6E6E6"/>
<path d="M712.85,321.55 L716.05,324.35 L719.25,321.55" stroke="#000" stroke-opacity="0.6" stroke-width="0.8" fill="none"/>
<use href="#gr" x="725.82" y="309.35" fill="#E6E6E6"/>
<path d="M731.42,321.55 L734.62,324.35 L737.82,321.55" stroke="#000" stroke-opacity="0.6" stroke-width="0.8" fill="none"/>
<use href="#gr" x="744.39" y="309.35" fill="#E6E6E6"/>
<path d="M749.99,321.55 L753.19,324.35 L756.39,321.55" stroke="#000" stroke-opacity="0.6" stroke-width="0.8" fill="none"/>
<use href="#gr" x="762.96" y="309.35" fill="#E6E6E6"/>
<path d="M768.56,321.55 L771.76,324.35 L774.96,321.55" stroke="#000" stroke-opacity="0.6" stroke-width="0.8" fill="none"/>
<use href="#gr" x="781.53" y="309.35" fill="#E6E6E6"/>
<path d="M787.13,321.55 L790.33,324.35 L793.53,321.55" stroke="#000" stroke-opacity="0.6" stroke-width="0.8" fill="none"/>
<use href="#gr" x="614.40" y="353.80" fill="#E6E6E6"/>
<path d="M620.00,366.00 L623.20,368.80 L626.40,366.00" stroke="#000" stroke-opacity="0.6" stroke-width="0.8" fill="none"/>
<use href="#gr" x="632.97" y="353.80" fill="#E6E6E6"/>
<path d="M638.57,366.00 L641.77,368.80 L644.97,366.00" stroke="#000" stroke-opacity="0.6" stroke-width="0.8" fill="none"/>
<use href="#gr" x="651.54" y="353.80" fill="#E6E6E6"/>
<path d="M657.14,366.00 L660.34,368.80 L663.54,366.00" stroke="#000" stroke-opacity="0.6" stroke-width="0.8" fill="none"/>
<use href="#gr" x="670.11" y="353.80" fill="#E6E6E6"/>
<path d="M675.71,366.00 L678.91,368.80 L682.11,366.00" stroke="#000" stroke-opacity="0.6" stroke-width="0.8" fill="none"/>
<use href="#gr" x="688.68" y="353.80" fill="#E6E6E6"/>
<path d="M694.28,366.00 L697.48,368.80 L700.68,366.00" stroke="#000" stroke-opacity="0.6" stroke-width="0.8" fill="none"/>
<use href="#gr" x="707.25" y="353.80" fill="#E6E6E6"/>
<path d="M712.85,366.00 L716.05,368.80 L719.25,366.00" stroke="#000" stroke-opacity="0.6" stroke-width="0.8" fill="none"/>
<use href="#gr" x="725.82" y="353.80" fill="#E6E6E6"/>
<path d="M731.42,366.00 L734.62,368.80 L737.82,366.00" stroke="#000" stroke-opacity="0.6" stroke-width="0.8" fill="none"/>
<use href="#gr" x="744.39" y="353.80" fill="#E6E6E6"/>
<path d="M749.99,366.00 L753.19,368.80 L756.39,366.00" stroke="#000" stroke-opacity="0.6" stroke-width="0.8" fill="none"/>
<use href="#gr" x="762.96" y="353.80" fill="#E6E6E6"/>
<path d="M768.56,366.00 L771.76,368.80 L774.96,366.00" stroke="#000" stroke-opacity="0.6" stroke-width="0.8" fill="none"/>
<use href="#gr" x="781.53" y="353.80" fill="#E6E6E6"/>
<path d="M787.13,366.00 L790.33,368.80 L793.53,366.00" stroke="#000" stroke-opacity="0.6" stroke-width="0.8" fill="none"/>
<use href="#ug" x="0.00" y="504.00" fill="#EAAB20"/>
<path d="M5.70,516.00 v9" stroke="#000" stroke-opacity="0.6" stroke-width="0.9" fill="none"/><path d="M10.40,516.00 v9" stroke="#000" stroke-opacity="0.3" stroke-width="0.9" fill="none"/>
<use href="#ug" x="18.57" y="504.00" fill="#EAAB20"/>
<path d="M24.27,516.00 v9" stroke="#000" stroke-opacity="0.6" stroke-width="0.9" fill="none"/><path d="M28.97,516.00 v9" stroke="#000" stroke-opacity="0.3" stroke-width="0.9" fill="none"/>
<use href="#ug" x="37.14" y="504.00" fill="#EAAB20"/>
<path d="M42.84,516.00 v9" stroke="#000" stroke-opacity="0.6" stroke-width="0.9" fill="none"/><path d="M47.54,516.00 v9" stroke="#000" stroke-opacity="0.3" stroke-width="0.9" fill="none"/>
<use href="#ug" x="55.71" y="504.00" fill="#EAAB20"/>
<path d="M61.41,516.00 v9" stroke="#000" stroke-opacity="0.6" stroke-width="0.9" fill="none"/><path d="M66.11,516.00 v9" stroke="#000" stroke-opacity="0.3" stroke-width="0.9" fill="none"/>
<use href="#ug" x="74.28" y="504.00" fill="#EAAB20"/>
<path d="M79.98,516.00 v9" stroke="#000" stroke-opacity="0.6" stroke-width="0.9" fill="none"/><path d="M84.68,516.00 v9" stroke="#000" stroke-opacity="0.3" stroke-width="0.9" fill="none"/>
<use href="#ug" x="92.85" y="504.00" fill="#EAAB20"/>
<path d="M98.55,516.00 v9" stroke="#000" stroke-opacity="0.6" stroke-width="0.9" fill="none"/><path d="M103.25,516.00 v9" stroke="#000" stroke-opacity="0.3" stroke-width="0.9" fill="none"/>
<use href="#ug" x="111.42" y="504.00" fill="#EAAB20"/>
<path d="M117.12,516.00 v9" stroke="#000" stroke-opacity="0.6" stroke-width="0.9" fill="none"/><path d="M121.82,516.00 v9" stroke="#000" stroke-opacity="0.3" stroke-width="0.9" fill="none"/>
<use href="#ug" x="129.99" y="504.00" fill="#EAAB20"/>
<path d="M135.69,516.00 v9" stroke="#000" stroke-opacity="0.6" stroke-width="0.9" fill="none"/><path d="M140.39,516.00 v9" stroke="#000" stroke-opacity="0.3" stroke-width="0.9" fill="none"/>
<use href="#ug" x="148.56" y="504.00" fill="#EAAB20"/>
<path d="M154.26,516.00 v9" stroke="#000" stroke-opacity="0.6" stroke-width="0.9" fill="none"/><path d="M158.96,516.00 v9" stroke="#000" stroke-opacity="0.3" stroke-width="0.9" fill="none"/>
<use href="#ug" x="167.13" y="504.00" fill="#EAAB20"/>
<path d="M172.83,516.00 v9" stroke="#000" stroke-opacity="0.6" stroke-width="0.9" fill="none"/><path d="M177.53,516.00 v9" stroke="#000" stroke-opacity="0.3" stroke-width="0.9" fill="none"/>
<use href="#ug" x="0.00" y="548.45" fill="#EAAB20"/>
<path d="M5.70,560.45 v9" stroke="#000" stroke-opacity="0.6" stroke-width="0.9" fill="none"/><path d="M10.40,560.45 v9" stroke="#000" stroke-opacity="0.3" stroke-width="0.9" fill="none"/>
<use href="#ug" x="18.57" y="548.45" fill="#EAAB20"/>
<path d="M24.27,560.45 v9" stroke="#000" stroke-opacity="0.6" stroke-width="0.9" fill="none"/><path d="M28.97,560.45 v9" stroke="#000" stroke-opacity="0.3" stroke-width="0.9" fill="none"/>
<use href="#ug" x="37.14" y="548.45" fill="#EAAB20"/>
<path d="M42.84,560.45 v9" stroke="#000" stroke-opacity="0.6" stroke-width="0.9" fill="none"/><path d="M47.54,560.45 v9" stroke="#000" stroke-opacity="0.3" stroke-width="0.9" fill="none"/>
<use href="#ug" x="55.71" y="548.45" fill="#EAAB20"/>
<path d="M61.41,560.45 v9" stroke="#000" stroke-opacity="0.6" stroke-width="0.9" fill="none"/><path d="M66.11,560.45 v9" stroke="#000" stroke-opacity="0.3" stroke-width="0.9" fill="none"/>
<use href="#ug" x="74.28" y="548.45" fill="#EAAB20"/>
<path d="M79.98,560.45 v9" stroke="#000" stroke-opacity="0.6" stroke-width="0.9" fill="none"/><path d="M84.68,560.45 v9" stroke="#000" stroke-opacity="0.3" stroke-width="0.9" fill="none"/>
<use href="#ug" x="92.85" y="548.45" fill="#EAAB20"/>
<path d="M98.55,560.45 v9" stroke="#000" stroke-opacity="0.6" stroke-width="0.9" fill="none"/><path d="M103.25,560.45 v9" stroke="#000" stroke-opacity="0.3" stroke-width="0.9" fill="none"/>
<use href="#ug" x="111.42" y="548.45" fill="#EAAB20"/>
<path d="M117.12,560.45 v9" stroke="#000" stroke-opacity="0.6" stroke-width="0.9" fill="none"/><path d="M121.82,560.45 v9" stroke="#000" stroke-opacity="0.3" stroke-width="0.9" fill="none"/>
<use href="#ug" x="129.99" y="548.45" fill="#EAAB20"/>
<path d="M135.69,560.45 v9" stroke="#000" stroke-opacity="0.6" stroke-width="0.9" fill="none"/><path d="M140.39,560.45 v9" stroke="#000" stroke-opacity="0.3" stroke-width="0.9" fill="none"/>
<use href="#ug" x="148.56" y="548.45" fill="#EAAB20"/>
<path d="M154.26,560.45 v9" stroke="#000" stroke-opacity="0.6" stroke-width="0.9" fill="none"/><path d="M158.96,560.45 v9" stroke="#000" stroke-opacity="0.3" stroke-width="0.9" fill="none"/>
<use href="#ug" x="167.13" y="548.45" fill="#EAAB20"/>
<path d="M172.83,560.45 v9" stroke="#000" stroke-opacity="0.6" stroke-width="0.9" fill="none"/><path d="M177.53,560.45 v9" stroke="#000" stroke-opacity="0.3" stroke-width="0.9" fill="none"/>
<use href="#ug" x="0.00" y="592.90" fill="#EAAB20"/>
<path d="M5.70,604.90 v9" stroke="#000" stroke-opacity="0.6" stroke-width="0.9" fill="none"/><path d="M10.40,604.90 v9" stroke="#000" stroke-opacity="0.3" stroke-width="0.9" fill="none"/>
<use href="#ug" x="18.57" y="592.90" fill="#EAAB20"/>
<path d="M24.27,604.90 v9" stroke="#000" stroke-opacity="0.6" stroke-width="0.9" fill="none"/><path d="M28.97,604.90 v9" stroke="#000" stroke-opacity="0.3" stroke-width="0.9" fill="none"/>
<use href="#ug" x="37.14" y="592.90" fill="#EAAB20"/>
<path d="M42.84,604.90 v9" stroke="#000" stroke-opacity="0.6" stroke-width="0.9" fill="none"/><path d="M47.54,604.90 v9" stroke="#000" stroke-opacity="0.3" stroke-width="0.9" fill="none"/>
<use href="#ug" x="55.71" y="592.90" fill="#EAAB20"/>
<path d="M61.41,604.90 v9" stroke="#000" stroke-opacity="0.6" stroke-width="0.9" fill="none"/><path d="M66.11,604.90 v9" stroke="#000" stroke-opacity="0.3" stroke-width="0.9" fill="none"/>
<use href="#ug" x="74.28" y="592.90" fill="#EAAB20"/>
<path d="M79.98,604.90 v9" stroke="#000" stroke-opacity="0.6" stroke-width="0.9" fill="none"/><path d="M84.68,604.90 v9" stroke="#000" stroke-opacity="0.3" stroke-width="0.9" fill="none"/>
<use href="#ug" x="92.85" y="592.90" fill="#EAAB20"/>
<path d="M98.55,604.90 v9" stroke="#000" stroke-opacity="0.6" stroke-width="0.9" fill="none"/><path d="M103.25,604.90 v9" stroke="#000" stroke-opacity="0.3" stroke-width="0.9" fill="none"/>
<use href="#ug" x="111.42" y="592.90" fill="#EAAB20"/>
<path d="M117.12,604.90 v9" stroke="#000" stroke-opacity="0.6" stroke-width="0.9" fill="none"/><path d="M121.82,604.90 v9" stroke="#000" stroke-opacity="0.3" stroke-width="0.9" fill="none"/>
<use href="#ug" x="129.99" y="592.90" fill="#EAAB20"/>
<path d="M135.69,604.90 v9" stroke="#000" stroke-opacity="0.6" stroke-width="0.9" fill="none"/><path d="M140.39,604.90 v9" stroke="#000" stroke-opacity="0.3" stroke-width="0.9" fill="none"/>
<use href="#ug" x="148.56" y="592.90" fill="#EAAB20"/>
<path d="M154.26,604.90 v9" stroke="#000" stroke-opacity="0.6" stroke-width="0.9" fill="none"/><path d="M158.96,604.90 v9" stroke="#000" stroke-opacity="0.3" stroke-width="0.9" fill="none"/>
<use href="#ug" x="167.13" y="592.90" fill="#EAAB20"/>
<path d="M172.83,604.90 v9" stroke="#000" stroke-opacity="0.6" stroke-width="0.9" fill="none"/><path d="M177.53,604.90 v9" stroke="#000" stroke-opacity="0.3" stroke-width="0.9" fill="none"/>
<use href="#ug" x="0.00" y="637.35" fill="#EAAB20"/>
<path d="M5.70,649.35 v9" stroke="#000" stroke-opacity="0.6" stroke-width="0.9" fill="none"/><path d="M10.40,649.35 v9" stroke="#000" stroke-opacity="0.3" stroke-width="0.9" fill="none"/>
<use href="#ug" x="18.57" y="637.35" fill="#EAAB20"/>
<path d="M24.27,649.35 v9" stroke="#000" stroke-opacity="0.6" stroke-width="0.9" fill="none"/><path d="M28.97,649.35 v9" stroke="#000" stroke-opacity="0.3" stroke-width="0.9" fill="none"/>
<use href="#ug" x="37.14" y="637.35" fill="#EAAB20"/>
<path d="M42.84,649.35 v9" stroke="#000" stroke-opacity="0.6" stroke-width="0.9" fill="none"/><path d="M47.54,649.35 v9" stroke="#000" stroke-opacity="0.3" stroke-width="0.9" fill="none"/>
<use href="#ug" x="55.71" y="637.35" fill="#EAAB20"/>
<path d="M61.41,649.35 v9" stroke="#000" stroke-opacity="0.6" stroke-width="0.9" fill="none"/><path d="M66.11,649.35 v9" stroke="#000" stroke-opacity="0.3" stroke-width="0.9" fill="none"/>
<use href="#ug" x="74.28" y="637.35" fill="#EAAB20"/>
<path d="M79.98,649.35 v9" stroke="#000" stroke-opacity="0.6" stroke-width="0.9" fill="none"/><path d="M84.68,649.35 v9" stroke="#000" stroke-opacity="0.3" stroke-width="0.9" fill="none"/>
<use href="#ug" x="92.85" y="637.35" fill="#EAAB20"/>
<path d="M98.55,649.35 v9" stroke="#000" stroke-opacity="0.6" stroke-width="0.9" fill="none"/><path d="M103.25,649.35 v9" stroke="#000" stroke-opacity="0.3" stroke-width="0.9" fill="none"/>
<use href="#ug" x="111.42" y="637.35" fill="#EBB54A"/>
<path d="M117.12,649.35 v9" stroke="#000" stroke-opacity="0.6" stroke-width="0.9" fill="none"/><path d="M121.82,649.35 v9" stroke="#000" stroke-opacity="0.3" stroke-width="0.9" fill="none"/>
<use href="#ug" x="129.99" y="637.35" fill="#E6E6E6"/>
<path d="M135.69,649.35 v9" stroke="#000" stroke-opacity="0.75" stroke-width="0.9" fill="none"/><path d="M140.39,649.35 v9" stroke="#000" stroke-opacity="0.35" stroke-width="0.9" fill="none"/>
<use href="#ug" x="148.56" y="637.35" fill="#E6E6E6"/>
<path d="M154.26,649.35 v9" stroke="#000" stroke-opacity="0.75" stroke-width="0.9" fill="none"/><path d="M158.96,649.35 v9" stroke="#000" stroke-opacity="0.35" stroke-width="0.9" fill="none"/>
<use href="#ug" x="167.13" y="637.35" fill="#E6E6E6"/>
<path d="M172.83,649.35 v9" stroke="#000" stroke-opacity="0.75" stroke-width="0.9" fill="none"/><path d="M177.53,649.35 v9" stroke="#000" stroke-opacity="0.35" stroke-width="0.9" fill="none"/>
<use href="#ug" x="0.00" y="681.80" fill="#E6E6E6"/>
<path d="M5.70,693.80 v9" stroke="#000" stroke-opacity="0.75" stroke-width="0.9" fill="none"/><path d="M10.40,693.80 v9" stroke="#000" stroke-opacity="0.35" stroke-width="0.9" fill="none"/>
<use href="#ug" x="18.57" y="681.80" fill="#E6E6E6"/>
<path d="M24.27,693.80 v9" stroke="#000" stroke-opacity="0.75" stroke-width="0.9" fill="none"/><path d="M28.97,693.80 v9" stroke="#000" stroke-opacity="0.35" stroke-width="0.9" fill="none"/>
<use href="#ug" x="37.14" y="681.80" fill="#E6E6E6"/>
<path d="M42.84,693.80 v9" stroke="#000" stroke-opacity="0.75" stroke-width="0.9" fill="none"/><path d="M47.54,693.80 v9" stroke="#000" stroke-opacity="0.35" stroke-width="0.9" fill="none"/>
<use href="#ug" x="55.71" y="681.80" fill="#E6E6E6"/>
<path d="M61.41,693.80 v9" stroke="#000" stroke-opacity="0.75" stroke-width="0.9" fill="none"/><path d="M66.11,693.80 v9" stroke="#000" stroke-opacity="0.35" stroke-width="0.9" fill="none"/>
<use href="#ug" x="74.28" y="681.80" fill="#E6E6E6"/>
<path d="M79.98,693.80 v9" stroke="#000" stroke-opacity="0.75" stroke-width="0.9" fill="none"/><path d="M84.68,693.80 v9" stroke="#000" stroke-opacity="0.35" stroke-width="0.9" fill="none"/>
<use href="#ug" x="92.85" y="681.80" fill="#E6E6E6"/>
<path d="M98.55,693.80 v9" stroke="#000" stroke-opacity="0.75" stroke-width="0.9" fill="none"/><path d="M103.25,693.80 v9" stroke="#000" stroke-opacity="0.35" stroke-width="0.9" fill="none"/>
<use href="#ug" x="111.42" y="681.80" fill="#E6E6E6"/>
<path d="M117.12,693.80 v9" stroke="#000" stroke-opacity="0.75" stroke-width="0.9" fill="none"/><path d="M121.82,693.80 v9" stroke="#000" stroke-opacity="0.35" stroke-width="0.9" fill="none"/>
<use href="#ug" x="129.99" y="681.80" fill="#E6E6E6"/>
<path d="M135.69,693.80 v9" stroke="#000" stroke-opacity="0.75" stroke-width="0.9" fill="none"/><path d="M140.39,693.80 v9" stroke="#000" stroke-opacity="0.35" stroke-width="0.9" fill="none"/>
<use href="#ug" x="148.56" y="681.80" fill="#E6E6E6"/>
<path d="M154.26,693.80 v9" stroke="#000" stroke-opacity="0.75" stroke-width="0.9" fill="none"/><path d="M158.96,693.80 v9" stroke="#000" stroke-opacity="0.35" stroke-width="0.9" fill="none"/>
<use href="#ug" x="167.13" y="681.80" fill="#E6E6E6"/>
<path d="M172.83,693.80 v9" stroke="#000" stroke-opacity="0.75" stroke-width="0.9" fill="none"/><path d="M177.53,693.80 v9" stroke="#000" stroke-opacity="0.35" stroke-width="0.9" fill="none"/>
<use href="#gr" x="202.00" y="504.00" fill="#676A42"/>
<path d="M207.60,516.20 L210.80,519.00 L214.00,516.20" stroke="#000" stroke-opacity="0.6" stroke-width="0.8" fill="none"/>
<use href="#gr" x="220.57" y="504.00" fill="#676A42"/>
<path d="M226.17,516.20 L229.37,519.00 L232.57,516.20" stroke="#000" stroke-opacity="0.6" stroke-width="0.8" fill="none"/>
<use href="#gr" x="239.14" y="504.00" fill="#676A42"/>
<path d="M244.74,516.20 L247.94,519.00 L251.14,516.20" stroke="#000" stroke-opacity="0.6" stroke-width="0.8" fill="none"/>
<use href="#gr" x="257.71" y="504.00" fill="#676A42"/>
<path d="M263.31,516.20 L266.51,519.00 L269.71,516.20" stroke="#000" stroke-opacity="0.6" stroke-width="0.8" fill="none"/>
<use href="#gr" x="276.28" y="504.00" fill="#676A42"/>
<path d="M281.88,516.20 L285.08,519.00 L288.28,516.20" stroke="#000" stroke-opacity="0.6" stroke-width="0.8" fill="none"/>
<use href="#gr" x="294.85" y="504.00" fill="#676A42"/>
<path d="M300.45,516.20 L303.65,519.00 L306.85,516.20" stroke="#000" stroke-opacity="0.6" stroke-width="0.8" fill="none"/>
<use href="#gr" x="313.42" y="504.00" fill="#676A42"/>
<path d="M319.02,516.20 L322.22,519.00 L325.42,516.20" stroke="#000" stroke-opacity="0.6" stroke-width="0.8" fill="none"/>
<use href="#gr" x="331.99" y="504.00" fill="#676A42"/>
<path d="M337.59,516.20 L340.79,519.00 L343.99,516.20" stroke="#000" stroke-opacity="0.6" stroke-width="0.8" fill="none"/>
<use href="#gr" x="350.56" y="504.00" fill="#676A42"/>
<path d="M356.16,516.20 L359.36,519.00 L362.56,516.20" stroke="#000" stroke-opacity="0.6" stroke-width="0.8" fill="none"/>
<use href="#gr" x="369.13" y="504.00" fill="#676A42"/>
<path d="M374.73,516.20 L377.93,519.00 L381.13,516.20" stroke="#000" stroke-opacity="0.6" stroke-width="0.8" fill="none"/>
<use href="#gr" x="202.00" y="548.45" fill="#676A42"/>
<path d="M207.60,560.65 L210.80,563.45 L214.00,560.65" stroke="#000" stroke-opacity="0.6" stroke-width="0.8" fill="none"/>
<use href="#gr" x="220.57" y="548.45" fill="#676A42"/>
<path d="M226.17,560.65 L229.37,563.45 L232.57,560.65" stroke="#000" stroke-opacity="0.6" stroke-width="0.8" fill="none"/>
<use href="#gr" x="239.14" y="548.45" fill="#676A42"/>
<path d="M244.74,560.65 L247.94,563.45 L251.14,560.65" stroke="#000" stroke-opacity="0.6" stroke-width="0.8" fill="none"/>
<use href="#gr" x="257.71" y="548.45" fill="#676A42"/>
<path d="M263.31,560.65 L266.51,563.45 L269.71,560.65" stroke="#000" stroke-opacity="0.6" stroke-width="0.8" fill="none"/>
<use href="#gr" x="276.28" y="548.45" fill="#676A42"/>
<path d="M281.88,560.65 L285.08,563.45 L288.28,560.65" stroke="#000" stroke-opacity="0.6" stroke-width="0.8" fill="none"/>
<use href="#gr" x="294.85" y="548.45" fill="#676A42"/>
<path d="M300.45,560.65 L303.65,563.45 L306.85,560.65" stroke="#000" stroke-opacity="0.6" stroke-width="0.8" fill="none"/>
<use href="#gr" x="313.42" y="548.45" fill="#676A42"/>
<path d="M319.02,560.65 L322.22,563.45 L325.42,560.65" stroke="#000" stroke-opacity="0.6" stroke-width="0.8" fill="none"/>
<use href="#gr" x="331.99" y="548.45" fill="#676A42"/>
<path d="M337.59,560.65 L340.79,563.45 L343.99,560.65" stroke="#000" stroke-opacity="0.6" stroke-width="0.8" fill="none"/>
<use href="#gr" x="350.56" y="548.45" fill="#676A42"/>
<path d="M356.16,560.65 L359.36,563.45 L362.56,560.65" stroke="#000" stroke-opacity="0.6" stroke-width="0.8" fill="none"/>
<use href="#gr" x="369.13" y="548.45" fill="#676A42"/>
<path d="M374.73,560.65 L377.93,563.45 L381.13,560.65" stroke="#000" stroke-opacity="0.6" stroke-width="0.8" fill="none"/>
<use href="#gr" x="202.00" y="592.90" fill="#676A42"/>
<path d="M207.60,605.10 L210.80,607.90 L214.00,605.10" stroke="#000" stroke-opacity="0.6" stroke-width="0.8" fill="none"/>
<use href="#gr" x="220.57" y="592.90" fill="#676A42"/>
<path d="M226.17,605.10 L229.37,607.90 L232.57,605.10" stroke="#000" stroke-opacity="0.6" stroke-width="0.8" fill="none"/>
<use href="#gr" x="239.14" y="592.90" fill="#676A42"/>
<path d="M244.74,605.10 L247.94,607.90 L251.14,605.10" stroke="#000" stroke-opacity="0.6" stroke-width="0.8" fill="none"/>
<use href="#gr" x="257.71" y="592.90" fill="#676A42"/>
<path d="M263.31,605.10 L266.51,607.90 L269.71,605.10" stroke="#000" stroke-opacity="0.6" stroke-width="0.8" fill="none"/>
<use href="#gr" x="276.28" y="592.90" fill="#676A42"/>
<path d="M281.88,605.10 L285.08,607.90 L288.28,605.10" stroke="#000" stroke-opacity="0.6" stroke-width="0.8" fill="none"/>
<use href="#gr" x="294.85" y="592.90" fill="#676A42"/>
<path d="M300.45,605.10 L303.65,607.90 L306.85,605.10" stroke="#000" stroke-opacity="0.6" stroke-width="0.8" fill="none"/>
<use href="#gr" x="313.42" y="592.90" fill="#676A42"/>
<path d="M319.02,605.10 L322.22,607.90 L325.42,605.10" stroke="#000" stroke-opacity="0.6" stroke-width="0.8" fill="none"/>
<use href="#gr" x="331.99" y="592.90" fill="#676A42"/>
<path d="M337.59,605.10 L340.79,607.90 L343.99,605.10" stroke="#000" stroke-opacity="0.6" stroke-width="0.8" fill="none"/>
<use href="#gr" x="350.56" y="592.90" fill="#E6E6E6"/>
<path d="M356.16,605.10 L359.36,607.90 L362.56,605.10" stroke="#000" stroke-opacity="0.6" stroke-width="0.8" fill="none"/>
<use href="#gr" x="369.13" y="592.90" fill="#E6E6E6"/>
<path d="M374.73,605.10 L377.93,607.90 L381.13,605.10" stroke="#000" stroke-opacity="0.6" stroke-width="0.8" fill="none"/>
<use href="#gr" x="202.00" y="637.35" fill="#E6E6E6"/>
<path d="M207.60,649.55 L210.80,652.35 L214.00,649.55" stroke="#000" stroke-opacity="0.6" stroke-width="0.8" fill="none"/>
<use href="#gr" x="220.57" y="637.35" fill="#E6E6E6"/>
<path d="M226.17,649.55 L229.37,652.35 L232.57,649.55" stroke="#000" stroke-opacity="0.6" stroke-width="0.8" fill="none"/>
<use href="#gr" x="239.14" y="637.35" fill="#E6E6E6"/>
<path d="M244.74,649.55 L247.94,652.35 L251.14,649.55" stroke="#000" stroke-opacity="0.6" stroke-width="0.8" fill="none"/>
<use href="#gr" x="257.71" y="637.35" fill="#E6E6E6"/>
<path d="M263.31,649.55 L266.51,652.35 L269.71,649.55" stroke="#000" stroke-opacity="0.6" stroke-width="0.8" fill="none"/>
<use href="#gr" x="276.28" y="637.35" fill="#E6E6E6"/>
<path d="M281.88,649.55 L285.08,652.35 L288.28,649.55" stroke="#000" stroke-opacity="0.6" stroke-width="0.8" fill="none"/>
<use href="#gr" x="294.85" y="637.35" fill="#E6E6E6"/>
<path d="M300.45,649.55 L303.65,652.35 L306.85,649.55" stroke="#000" stroke-opacity="0.6" stroke-width="0.8" fill="none"/>
<use href="#gr" x="313.42" y="637.35" fill="#E6E6E6"/>
<path d="M319.02,649.55 L322.22,652.35 L325.42,649.55" stroke="#000" stroke-opacity="0.6" stroke-width="0.8" fill="none"/>
<use href="#gr" x="331.99" y="637.35" fill="#E6E6E6"/>
<path d="M337.59,649.55 L340.79,652.35 L343.99,649.55" stroke="#000" stroke-opacity="0.6" stroke-width="0.8" fill="none"/>
<use href="#gr" x="350.56" y="637.35" fill="#E6E6E6"/>
<path d="M356.16,649.55 L359.36,652.35 L362.56,649.55" stroke="#000" stroke-opacity="0.6" stroke-width="0.8" fill="none"/>
<use href="#gr" x="369.13" y="637.35" fill="#E6E6E6"/>
<path d="M374.73,649.55 L377.93,652.35 L381.13,649.55" stroke="#000" stroke-opacity="0.6" stroke-width="0.8" fill="none"/>
<use href="#gr" x="202.00" y="681.80" fill="#E6E6E6"/>
<path d="M207.60,694.00 L210.80,696.80 L214.00,694.00" stroke="#000" stroke-opacity="0.6" stroke-width="0.8" fill="none"/>
<use href="#gr" x="220.57" y="681.80" fill="#E6E6E6"/>
<path d="M226.17,694.00 L229.37,696.80 L232.57,694.00" stroke="#000" stroke-opacity="0.6" stroke-width="0.8" fill="none"/>
<use href="#gr" x="239.14" y="681.80" fill="#E6E6E6"/>
<path d="M244.74,694.00 L247.94,696.80 L251.14,694.00" stroke="#000" stroke-opacity="0.6" stroke-width="0.8" fill="none"/>
<use href="#gr" x="257.71" y="681.80" fill="#E6E6E6"/>
<path d="M263.31,694.00 L266.51,696.80 L269.71,694.00" stroke="#000" stroke-opacity="0.6" stroke-width="0.8" fill="none"/>
<use href="#gr" x="276.28" y="681.80" fill="#E6E6E6"/>
<path d="M281.88,694.00 L285.08,696.80 L288.28,694.00" stroke="#000" stroke-opacity="0.6" stroke-width="0.8" fill="none"/>
<use href="#gr" x="294.85" y="681.80" fill="#E6E6E6"/>
<path d="M300.45,694.00 L303.65,696.80 L306.85,694.00" stroke="#000" stroke-opacity="0.6" stroke-width="0.8" fill="none"/>
<use href="#gr" x="313.42" y="681.80" fill="#E6E6E6"/>
<path d="M319.02,694.00 L322.22,696.80 L325.42,694.00" stroke="#000" stroke-opacity="0.6" stroke-width="0.8" fill="none"/>
<use href="#gr" x="331.99" y="681.80" fill="#E6E6E6"/>
<path d="M337.59,694.00 L340.79,696.80 L343.99,694.00" stroke="#000" stroke-opacity="0.6" stroke-width="0.8" fill="none"/>
<use href="#gr" x="350.56" y="681.80" fill="#E6E6E6"/>
<path d="M356.16,694.00 L359.36,696.80 L362.56,694.00" stroke="#000" stroke-opacity="0.6" stroke-width="0.8" fill="none"/>
<use href="#gr" x="369.13" y="681.80" fill="#E6E6E6"/>
<path d="M374.73,694.00 L377.93,696.80 L381.13,694.00" stroke="#000" stroke-opacity="0.6" stroke-width="0.8" fill="none"/>
<use href="#ug" x="411.60" y="506.40" fill="#EAAB20"/>
<path d="M417.30,518.40 v9" stroke="#000" stroke-opacity="0.6" stroke-width="0.9" fill="none"/><path d="M422.00,518.40 v9" stroke="#000" stroke-opacity="0.3" stroke-width="0.9" fill="none"/>
<use href="#ug" x="430.17" y="506.40" fill="#EAAB20"/>
<path d="M435.87,518.40 v9" stroke="#000" stroke-opacity="0.6" stroke-width="0.9" fill="none"/><path d="M440.57,518.40 v9" stroke="#000" stroke-opacity="0.3" stroke-width="0.9" fill="none"/>
<use href="#ug" x="448.74" y="506.40" fill="#EAAB20"/>
<path d="M454.44,518.40 v9" stroke="#000" stroke-opacity="0.6" stroke-width="0.9" fill="none"/><path d="M459.14,518.40 v9" stroke="#000" stroke-opacity="0.3" stroke-width="0.9" fill="none"/>
<use href="#ug" x="467.31" y="506.40" fill="#EAAB20"/>
<path d="M473.01,518.40 v9" stroke="#000" stroke-opacity="0.6" stroke-width="0.9" fill="none"/><path d="M477.71,518.40 v9" stroke="#000" stroke-opacity="0.3" stroke-width="0.9" fill="none"/>
<use href="#ug" x="485.88" y="506.40" fill="#EAAB20"/>
<path d="M491.58,518.40 v9" stroke="#000" stroke-opacity="0.6" stroke-width="0.9" fill="none"/><path d="M496.28,518.40 v9" stroke="#000" stroke-opacity="0.3" stroke-width="0.9" fill="none"/>
<use href="#ug" x="504.45" y="506.40" fill="#EAAB20"/>
<path d="M510.15,518.40 v9" stroke="#000" stroke-opacity="0.6" stroke-width="0.9" fill="none"/><path d="M514.85,518.40 v9" stroke="#000" stroke-opacity="0.3" stroke-width="0.9" fill="none"/>
<use href="#ug" x="523.02" y="506.40" fill="#EAAB20"/>
<path d="M528.72,518.40 v9" stroke="#000" stroke-opacity="0.6" stroke-width="0.9" fill="none"/><path d="M533.42,518.40 v9" stroke="#000" stroke-opacity="0.3" stroke-width="0.9" fill="none"/>
<use href="#ug" x="541.59" y="506.40" fill="#EAAB20"/>
<path d="M547.29,518.40 v9" stroke="#000" stroke-opacity="0.6" stroke-width="0.9" fill="none"/><path d="M551.99,518.40 v9" stroke="#000" stroke-opacity="0.3" stroke-width="0.9" fill="none"/>
<use href="#ug" x="560.16" y="506.40" fill="#EAAB20"/>
<path d="M565.86,518.40 v9" stroke="#000" stroke-opacity="0.6" stroke-width="0.9" fill="none"/><path d="M570.56,518.40 v9" stroke="#000" stroke-opacity="0.3" stroke-width="0.9" fill="none"/>
<use href="#ug" x="578.73" y="506.40" fill="#EAAB20"/>
<path d="M584.43,518.40 v9" stroke="#000" stroke-opacity="0.6" stroke-width="0.9" fill="none"/><path d="M589.13,518.40 v9" stroke="#000" stroke-opacity="0.3" stroke-width="0.9" fill="none"/>
<use href="#ug" x="411.60" y="550.85" fill="#EAAB20"/>
<path d="M417.30,562.85 v9" stroke="#000" stroke-opacity="0.6" stroke-width="0.9" fill="none"/><path d="M422.00,562.85 v9" stroke="#000" stroke-opacity="0.3" stroke-width="0.9" fill="none"/>
<use href="#ug" x="430.17" y="550.85" fill="#EAAB20"/>
<path d="M435.87,562.85 v9" stroke="#000" stroke-opacity="0.6" stroke-width="0.9" fill="none"/><path d="M440.57,562.85 v9" stroke="#000" stroke-opacity="0.3" stroke-width="0.9" fill="none"/>
<use href="#ug" x="448.74" y="550.85" fill="#EAAB20"/>
<path d="M454.44,562.85 v9" stroke="#000" stroke-opacity="0.6" stroke-width="0.9" fill="none"/><path d="M459.14,562.85 v9" stroke="#000" stroke-opacity="0.3" stroke-width="0.9" fill="none"/>
<use href="#ug" x="467.31" y="550.85" fill="#EAAB20"/>
<path d="M473.01,562.85 v9" stroke="#000" stroke-opacity="0.6" stroke-width="0.9" fill="none"/><path d="M477.71,562.85 v9" stroke="#000" stroke-opacity="0.3" stroke-width="0.9" fill="none"/>
<use href="#ug" x="485.88" y="550.85" fill="#EAAB20"/>
<path d="M491.58,562.85 v9" stroke="#000" stroke-opacity="0.6" stroke-width="0.9" fill="none"/><path d="M496.28,562.85 v9" stroke="#000" stroke-opacity="0.3" stroke-width="0.9" fill="none"/>
<use href="#ug" x="504.45" y="550.85" fill="#EAAB20"/>
<path d="M510.15,562.85 v9" stroke="#000" stroke-opacity="0.6" stroke-width="0.9" fill="none"/><path d="M514.85,562.85 v9" stroke="#000" stroke-opacity="0.3" stroke-width="0.9" fill="none"/>
<use href="#ug" x="523.02" y="550.85" fill="#EAAB20"/>
<path d="M528.72,562.85 v9" stroke="#000" stroke-opacity="0.6" stroke-width="0.9" fill="none"/><path d="M533.42,562.85 v9" stroke="#000" stroke-opacity="0.3" stroke-width="0.9" fill="none"/>
<use href="#ug" x="541.59" y="550.85" fill="#EAAB20"/>
<path d="M547.29,562.85 v9" stroke="#000" stroke-opacity="0.6" stroke-width="0.9" fill="none"/><path d="M551.99,562.85 v9" stroke="#000" stroke-opacity="0.3" stroke-width="0.9" fill="none"/>
<use href="#ug" x="560.16" y="550.85" fill="#EAAB20"/>
<path d="M565.86,562.85 v9" stroke="#000" stroke-opacity="0.6" stroke-width="0.9" fill="none"/><path d="M570.56,562.85 v9" stroke="#000" stroke-opacity="0.3" stroke-width="0.9" fill="none"/>
<use href="#ug" x="578.73" y="550.85" fill="#EAAB20"/>
<path d="M584.43,562.85 v9" stroke="#000" stroke-opacity="0.6" stroke-width="0.9" fill="none"/><path d="M589.13,562.85 v9" stroke="#000" stroke-opacity="0.3" stroke-width="0.9" fill="none"/>
<use href="#ug" x="411.60" y="595.30" fill="#E6E6E6"/>
<clipPath id="cp3"><rect x="409.60" y="615.80" width="22" height="30"/></clipPath>
<g clip-path="url(#cp3)"><use href="#ug" x="411.60" y="595.30" fill="#EAAB20"/></g>
<path d="M417.30,607.30 v9" stroke="#000" stroke-opacity="0.75" stroke-width="0.9" fill="none"/><path d="M422.00,607.30 v9" stroke="#000" stroke-opacity="0.35" stroke-width="0.9" fill="none"/>
<use href="#ug" x="430.17" y="595.30" fill="#E6E6E6"/>
<path d="M435.87,607.30 v9" stroke="#000" stroke-opacity="0.75" stroke-width="0.9" fill="none"/><path d="M440.57,607.30 v9" stroke="#000" stroke-opacity="0.35" stroke-width="0.9" fill="none"/>
<use href="#ug" x="448.74" y="595.30" fill="#E6E6E6"/>
<path d="M454.44,607.30 v9" stroke="#000" stroke-opacity="0.75" stroke-width="0.9" fill="none"/><path d="M459.14,607.30 v9" stroke="#000" stroke-opacity="0.35" stroke-width="0.9" fill="none"/>
<use href="#ug" x="467.31" y="595.30" fill="#E6E6E6"/>
<path d="M473.01,607.30 v9" stroke="#000" stroke-opacity="0.75" stroke-width="0.9" fill="none"/><path d="M477.71,607.30 v9" stroke="#000" stroke-opacity="0.35" stroke-width="0.9" fill="none"/>
<use href="#ug" x="485.88" y="595.30" fill="#E6E6E6"/>
<path d="M491.58,607.30 v9" stroke="#000" stroke-opacity="0.75" stroke-width="0.9" fill="none"/><path d="M496.28,607.30 v9" stroke="#000" stroke-opacity="0.35" stroke-width="0.9" fill="none"/>
<use href="#ug" x="504.45" y="595.30" fill="#E6E6E6"/>
<path d="M510.15,607.30 v9" stroke="#000" stroke-opacity="0.75" stroke-width="0.9" fill="none"/><path d="M514.85,607.30 v9" stroke="#000" stroke-opacity="0.35" stroke-width="0.9" fill="none"/>
<use href="#ug" x="523.02" y="595.30" fill="#E6E6E6"/>
<path d="M528.72,607.30 v9" stroke="#000" stroke-opacity="0.75" stroke-width="0.9" fill="none"/><path d="M533.42,607.30 v9" stroke="#000" stroke-opacity="0.35" stroke-width="0.9" fill="none"/>
<use href="#ug" x="541.59" y="595.30" fill="#E6E6E6"/>
<path d="M547.29,607.30 v9" stroke="#000" stroke-opacity="0.75" stroke-width="0.9" fill="none"/><path d="M551.99,607.30 v9" stroke="#000" stroke-opacity="0.35" stroke-width="0.9" fill="none"/>
<use href="#ug" x="560.16" y="595.30" fill="#E6E6E6"/>
<path d="M565.86,607.30 v9" stroke="#000" stroke-opacity="0.75" stroke-width="0.9" fill="none"/><path d="M570.56,607.30 v9" stroke="#000" stroke-opacity="0.35" stroke-width="0.9" fill="none"/>
<use href="#ug" x="578.73" y="595.30" fill="#E6E6E6"/>
<path d="M584.43,607.30 v9" stroke="#000" stroke-opacity="0.75" stroke-width="0.9" fill="none"/><path d="M589.13,607.30 v9" stroke="#000" stroke-opacity="0.35" stroke-width="0.9" fill="none"/>
<use href="#ug" x="411.60" y="639.75" fill="#E6E6E6"/>
<path d="M417.30,651.75 v9" stroke="#000" stroke-opacity="0.75" stroke-width="0.9" fill="none"/><path d="M422.00,651.75 v9" stroke="#000" stroke-opacity="0.35" stroke-width="0.9" fill="none"/>
<use href="#ug" x="430.17" y="639.75" fill="#E6E6E6"/>
<path d="M435.87,651.75 v9" stroke="#000" stroke-opacity="0.75" stroke-width="0.9" fill="none"/><path d="M440.57,651.75 v9" stroke="#000" stroke-opacity="0.35" stroke-width="0.9" fill="none"/>
<use href="#ug" x="448.74" y="639.75" fill="#E6E6E6"/>
<path d="M454.44,651.75 v9" stroke="#000" stroke-opacity="0.75" stroke-width="0.9" fill="none"/><path d="M459.14,651.75 v9" stroke="#000" stroke-opacity="0.35" stroke-width="0.9" fill="none"/>
<use href="#ug" x="467.31" y="639.75" fill="#E6E6E6"/>
<path d="M473.01,651.75 v9" stroke="#000" stroke-opacity="0.75" stroke-width="0.9" fill="none"/><path d="M477.71,651.75 v9" stroke="#000" stroke-opacity="0.35" stroke-width="0.9" fill="none"/>
<use href="#ug" x="485.88" y="639.75" fill="#E6E6E6"/>
<path d="M491.58,651.75 v9" stroke="#000" stroke-opacity="0.75" stroke-width="0.9" fill="none"/><path d="M496.28,651.75 v9" stroke="#000" stroke-opacity="0.35" stroke-width="0.9" fill="none"/>
<use href="#ug" x="504.45" y="639.75" fill="#E6E6E6"/>
<path d="M510.15,651.75 v9" stroke="#000" stroke-opacity="0.75" stroke-width="0.9" fill="none"/><path d="M514.85,651.75 v9" stroke="#000" stroke-opacity="0.35" stroke-width="0.9" fill="none"/>
<use href="#ug" x="523.02" y="639.75" fill="#E6E6E6"/>
<path d="M528.72,651.75 v9" stroke="#000" stroke-opacity="0.75" stroke-width="0.9" fill="none"/><path d="M533.42,651.75 v9" stroke="#000" stroke-opacity="0.35" stroke-width="0.9" fill="none"/>
<use href="#ug" x="541.59" y="639.75" fill="#E6E6E6"/>
<path d="M547.29,651.75 v9" stroke="#000" stroke-opacity="0.75" stroke-width="0.9" fill="none"/><path d="M551.99,651.75 v9" stroke="#000" stroke-opacity="0.35" stroke-width="0.9" fill="none"/>
<use href="#ug" x="560.16" y="639.75" fill="#E6E6E6"/>
<path d="M565.86,651.75 v9" stroke="#000" stroke-opacity="0.75" stroke-width="0.9" fill="none"/><path d="M570.56,651.75 v9" stroke="#000" stroke-opacity="0.35" stroke-width="0.9" fill="none"/>
<use href="#ug" x="578.73" y="639.75" fill="#E6E6E6"/>
<path d="M584.43,651.75 v9" stroke="#000" stroke-opacity="0.75" stroke-width="0.9" fill="none"/><path d="M589.13,651.75 v9" stroke="#000" stroke-opacity="0.35" stroke-width="0.9" fill="none"/>
<use href="#ug" x="411.60" y="684.20" fill="#E6E6E6"/>
<path d="M417.30,696.20 v9" stroke="#000" stroke-opacity="0.75" stroke-width="0.9" fill="none"/><path d="M422.00,696.20 v9" stroke="#000" stroke-opacity="0.35" stroke-width="0.9" fill="none"/>
<use href="#ug" x="430.17" y="684.20" fill="#E6E6E6"/>
<path d="M435.87,696.20 v9" stroke="#000" stroke-opacity="0.75" stroke-width="0.9" fill="none"/><path d="M440.57,696.20 v9" stroke="#000" stroke-opacity="0.35" stroke-width="0.9" fill="none"/>
<use href="#ug" x="448.74" y="684.20" fill="#E6E6E6"/>
<path d="M454.44,696.20 v9" stroke="#000" stroke-opacity="0.75" stroke-width="0.9" fill="none"/><path d="M459.14,696.20 v9" stroke="#000" stroke-opacity="0.35" stroke-width="0.9" fill="none"/>
<use href="#ug" x="467.31" y="684.20" fill="#E6E6E6"/>
<path d="M473.01,696.20 v9" stroke="#000" stroke-opacity="0.75" stroke-width="0.9" fill="none"/><path d="M477.71,696.20 v9" stroke="#000" stroke-opacity="0.35" stroke-width="0.9" fill="none"/>
<use href="#ug" x="485.88" y="684.20" fill="#E6E6E6"/>
<path d="M491.58,696.20 v9" stroke="#000" stroke-opacity="0.75" stroke-width="0.9" fill="none"/><path d="M496.28,696.20 v9" stroke="#000" stroke-opacity="0.35" stroke-width="0.9" fill="none"/>
<use href="#ug" x="504.45" y="684.20" fill="#E6E6E6"/>
<path d="M510.15,696.20 v9" stroke="#000" stroke-opacity="0.75" stroke-width="0.9" fill="none"/><path d="M514.85,696.20 v9" stroke="#000" stroke-opacity="0.35" stroke-width="0.9" fill="none"/>
<use href="#ug" x="523.02" y="684.20" fill="#E6E6E6"/>
<path d="M528.72,696.20 v9" stroke="#000" stroke-opacity="0.75" stroke-width="0.9" fill="none"/><path d="M533.42,696.20 v9" stroke="#000" stroke-opacity="0.35" stroke-width="0.9" fill="none"/>
<use href="#ug" x="541.59" y="684.20" fill="#E6E6E6"/>
<path d="M547.29,696.20 v9" stroke="#000" stroke-opacity="0.75" stroke-width="0.9" fill="none"/><path d="M551.99,696.20 v9" stroke="#000" stroke-opacity="0.35" stroke-width="0.9" fill="none"/>
<use href="#ug" x="560.16" y="684.20" fill="#E6E6E6"/>
<path d="M565.86,696.20 v9" stroke="#000" stroke-opacity="0.75" stroke-width="0.9" fill="none"/><path d="M570.56,696.20 v9" stroke="#000" stroke-opacity="0.35" stroke-width="0.9" fill="none"/>
<use href="#ug" x="578.73" y="684.20" fill="#E6E6E6"/>
<path d="M584.43,696.20 v9" stroke="#000" stroke-opacity="0.75" stroke-width="0.9" fill="none"/><path d="M589.13,696.20 v9" stroke="#000" stroke-opacity="0.35" stroke-width="0.9" fill="none"/>
<use href="#gr" x="613.50" y="506.00" fill="#676A42"/>
<path d="M619.10,518.20 L622.30,521.00 L625.50,518.20" stroke="#000" stroke-opacity="0.6" stroke-width="0.8" fill="none"/>
<use href="#gr" x="632.07" y="506.00" fill="#676A42"/>
<path d="M637.67,518.20 L640.87,521.00 L644.07,518.20" stroke="#000" stroke-opacity="0.6" stroke-width="0.8" fill="none"/>
<use href="#gr" x="650.64" y="506.00" fill="#676A42"/>
<path d="M656.24,518.20 L659.44,521.00 L662.64,518.20" stroke="#000" stroke-opacity="0.6" stroke-width="0.8" fill="none"/>
<use href="#gr" x="669.21" y="506.00" fill="#676A42"/>
<path d="M674.81,518.20 L678.01,521.00 L681.21,518.20" stroke="#000" stroke-opacity="0.6" stroke-width="0.8" fill="none"/>
<use href="#gr" x="687.78" y="506.00" fill="#676A42"/>
<path d="M693.38,518.20 L696.58,521.00 L699.78,518.20" stroke="#000" stroke-opacity="0.6" stroke-width="0.8" fill="none"/>
<use href="#gr" x="706.35" y="506.00" fill="#676A42"/>
<path d="M711.95,518.20 L715.15,521.00 L718.35,518.20" stroke="#000" stroke-opacity="0.6" stroke-width="0.8" fill="none"/>
<use href="#gr" x="724.92" y="506.00" fill="#676A42"/>
<path d="M730.52,518.20 L733.72,521.00 L736.92,518.20" stroke="#000" stroke-opacity="0.6" stroke-width="0.8" fill="none"/>
<use href="#gr" x="743.49" y="506.00" fill="#676A42"/>
<path d="M749.09,518.20 L752.29,521.00 L755.49,518.20" stroke="#000" stroke-opacity="0.6" stroke-width="0.8" fill="none"/>
<use href="#gr" x="762.06" y="506.00" fill="#676A42"/>
<path d="M767.66,518.20 L770.86,521.00 L774.06,518.20" stroke="#000" stroke-opacity="0.6" stroke-width="0.8" fill="none"/>
<use href="#gr" x="780.63" y="506.00" fill="#676A42"/>
<path d="M786.23,518.20 L789.43,521.00 L792.63,518.20" stroke="#000" stroke-opacity="0.6" stroke-width="0.8" fill="none"/>
<use href="#gr" x="613.50" y="550.45" fill="#676A42"/>
<path d="M619.10,562.65 L622.30,565.45 L625.50,562.65" stroke="#000" stroke-opacity="0.6" stroke-width="0.8" fill="none"/>
<use href="#gr" x="632.07" y="550.45" fill="#676A42"/>
<path d="M637.67,562.65 L640.87,565.45 L644.07,562.65" stroke="#000" stroke-opacity="0.6" stroke-width="0.8" fill="none"/>
<use href="#gr" x="650.64" y="550.45" fill="#676A42"/>
<path d="M656.24,562.65 L659.44,565.45 L662.64,562.65" stroke="#000" stroke-opacity="0.6" stroke-width="0.8" fill="none"/>
<use href="#gr" x="669.21" y="550.45" fill="#676A42"/>
<path d="M674.81,562.65 L678.01,565.45 L681.21,562.65" stroke="#000" stroke-opacity="0.6" stroke-width="0.8" fill="none"/>
<use href="#gr" x="687.78" y="550.45" fill="#676A42"/>
<path d="M693.38,562.65 L696.58,565.45 L699.78,562.65" stroke="#000" stroke-opacity="0.6" stroke-width="0.8" fill="none"/>
<use href="#gr" x="706.35" y="550.45" fill="#676A42"/>
<path d="M711.95,562.65 L715.15,565.45 L718.35,562.65" stroke="#000" stroke-opacity="0.6" stroke-width="0.8" fill="none"/>
<use href="#gr" x="724.92" y="550.45" fill="#676A42"/>
<path d="M730.52,562.65 L733.72,565.45 L736.92,562.65" stroke="#000" stroke-opacity="0.6" stroke-width="0.8" fill="none"/>
<use href="#gr" x="743.49" y="550.45" fill="#E6E6E6"/>
<clipPath id="cp4"><rect x="741.49" y="571.45" width="22" height="30"/></clipPath>
<g clip-path="url(#cp4)"><use href="#gr" x="743.49" y="550.45" fill="#676A42"/></g>
<path d="M749.09,562.65 L752.29,565.45 L755.49,562.65" stroke="#000" stroke-opacity="0.6" stroke-width="0.8" fill="none"/>
<use href="#gr" x="762.06" y="550.45" fill="#E6E6E6"/>
<path d="M767.66,562.65 L770.86,565.45 L774.06,562.65" stroke="#000" stroke-opacity="0.6" stroke-width="0.8" fill="none"/>
<use href="#gr" x="780.63" y="550.45" fill="#E6E6E6"/>
<path d="M786.23,562.65 L789.43,565.45 L792.63,562.65" stroke="#000" stroke-opacity="0.6" stroke-width="0.8" fill="none"/>
<use href="#gr" x="613.50" y="594.90" fill="#E6E6E6"/>
<path d="M619.10,607.10 L622.30,609.90 L625.50,607.10" stroke="#000" stroke-opacity="0.6" stroke-width="0.8" fill="none"/>
<use href="#gr" x="632.07" y="594.90" fill="#E6E6E6"/>
<path d="M637.67,607.10 L640.87,609.90 L644.07,607.10" stroke="#000" stroke-opacity="0.6" stroke-width="0.8" fill="none"/>
<use href="#gr" x="650.64" y="594.90" fill="#E6E6E6"/>
<path d="M656.24,607.10 L659.44,609.90 L662.64,607.10" stroke="#000" stroke-opacity="0.6" stroke-width="0.8" fill="none"/>
<use href="#gr" x="669.21" y="594.90" fill="#E6E6E6"/>
<path d="M674.81,607.10 L678.01,609.90 L681.21,607.10" stroke="#000" stroke-opacity="0.6" stroke-width="0.8" fill="none"/>
<use href="#gr" x="687.78" y="594.90" fill="#E6E6E6"/>
<path d="M693.38,607.10 L696.58,609.90 L699.78,607.10" stroke="#000" stroke-opacity="0.6" stroke-width="0.8" fill="none"/>
<use href="#gr" x="706.35" y="594.90" fill="#E6E6E6"/>
<path d="M711.95,607.10 L715.15,609.90 L718.35,607.10" stroke="#000" stroke-opacity="0.6" stroke-width="0.8" fill="none"/>
<use href="#gr" x="724.92" y="594.90" fill="#E6E6E6"/>
<path d="M730.52,607.10 L733.72,609.90 L736.92,607.10" stroke="#000" stroke-opacity="0.6" stroke-width="0.8" fill="none"/>
<use href="#gr" x="743.49" y="594.90" fill="#E6E6E6"/>
<path d="M749.09,607.10 L752.29,609.90 L755.49,607.10" stroke="#000" stroke-opacity="0.6" stroke-width="0.8" fill="none"/>
<use href="#gr" x="762.06" y="594.90" fill="#E6E6E6"/>
<path d="M767.66,607.10 L770.86,609.90 L774.06,607.10" stroke="#000" stroke-opacity="0.6" stroke-width="0.8" fill="none"/>
<use href="#gr" x="780.63" y="594.90" fill="#E6E6E6"/>
<path d="M786.23,607.10 L789.43,609.90 L792.63,607.10" stroke="#000" stroke-opacity="0.6" stroke-width="0.8" fill="none"/>
<use href="#gr" x="613.50" y="639.35" fill="#E6E6E6"/>
<path d="M619.10,651.55 L622.30,654.35 L625.50,651.55" stroke="#000" stroke-opacity="0.6" stroke-width="0.8" fill="none"/>
<use href="#gr" x="632.07" y="639.35" fill="#E6E6E6"/>
<path d="M637.67,651.55 L640.87,654.35 L644.07,651.55" stroke="#000" stroke-opacity="0.6" stroke-width="0.8" fill="none"/>
<use href="#gr" x="650.64" y="639.35" fill="#E6E6E6"/>
<path d="M656.24,651.55 L659.44,654.35 L662.64,651.55" stroke="#000" stroke-opacity="0.6" stroke-width="0.8" fill="none"/>
<use href="#gr" x="669.21" y="639.35" fill="#E6E6E6"/>
<path d="M674.81,651.55 L678.01,654.35 L681.21,651.55" stroke="#000" stroke-opacity="0.6" stroke-width="0.8" fill="none"/>
<use href="#gr" x="687.78" y="639.35" fill="#E6E6E6"/>
<path d="M693.38,651.55 L696.58,654.35 L699.78,651.55" stroke="#000" stroke-opacity="0.6" stroke-width="0.8" fill="none"/>
<use href="#gr" x="706.35" y="639.35" fill="#E6E6E6"/>
<path d="M711.95,651.55 L715.15,654.35 L718.35,651.55" stroke="#000" stroke-opacity="0.6" stroke-width="0.8" fill="none"/>
<use href="#gr" x="724.92" y="639.35" fill="#E6E6E6"/>
<path d="M730.52,651.55 L733.72,654.35 L736.92,651.55" stroke="#000" stroke-opacity="0.6" stroke-width="0.8" fill="none"/>
<use href="#gr" x="743.49" y="639.35" fill="#E6E6E6"/>
<path d="M749.09,651.55 L752.29,654.35 L755.49,651.55" stroke="#000" stroke-opacity="0.6" stroke-width="0.8" fill="none"/>
<use href="#gr" x="762.06" y="639.35" fill="#E6E6E6"/>
<path d="M767.66,651.55 L770.86,654.35 L774.06,651.55" stroke="#000" stroke-opacity="0.6" stroke-width="0.8" fill="none"/>
<use href="#gr" x="780.63" y="639.35" fill="#E6E6E6"/>
<path d="M786.23,651.55 L789.43,654.35 L792.63,651.55" stroke="#000" stroke-opacity="0.6" stroke-width="0.8" fill="none"/>
<use href="#gr" x="613.50" y="683.80" fill="#E6E6E6"/>
<path d="M619.10,696.00 L622.30,698.80 L625.50,696.00" stroke="#000" stroke-opacity="0.6" stroke-width="0.8" fill="none"/>
<use href="#gr" x="632.07" y="683.80" fill="#E6E6E6"/>
<path d="M637.67,696.00 L640.87,698.80 L644.07,696.00" stroke="#000" stroke-opacity="0.6" stroke-width="0.8" fill="none"/>
<use href="#gr" x="650.64" y="683.80" fill="#E6E6E6"/>
<path d="M656.24,696.00 L659.44,698.80 L662.64,696.00" stroke="#000" stroke-opacity="0.6" stroke-width="0.8" fill="none"/>
<use href="#gr" x="669.21" y="683.80" fill="#E6E6E6"/>
<path d="M674.81,696.00 L678.01,698.80 L681.21,696.00" stroke="#000" stroke-opacity="0.6" stroke-width="0.8" fill="none"/>
<use href="#gr" x="687.78" y="683.80" fill="#E6E6E6"/>
<path d="M693.38,696.00 L696.58,698.80 L699.78,696.00" stroke="#000" stroke-opacity="0.6" stroke-width="0.8" fill="none"/>
<use href="#gr" x="706.35" y="683.80" fill="#E6E6E6"/>
<path d="M711.95,696.00 L715.15,698.80 L718.35,696.00" stroke="#000" stroke-opacity="0.6" stroke-width="0.8" fill="none"/>
<use href="#gr" x="724.92" y="683.80" fill="#E6E6E6"/>
<path d="M730.52,696.00 L733.72,698.80 L736.92,696.00" stroke="#000" stroke-opacity="0.6" stroke-width="0.8" fill="none"/>
<use href="#gr" x="743.49" y="683.80" fill="#E6E6E6"/>
<path d="M749.09,696.00 L752.29,698.80 L755.49,696.00" stroke="#000" stroke-opacity="0.6" stroke-width="0.8" fill="none"/>
<use href="#gr" x="762.06" y="683.80" fill="#E6E6E6"/>
<path d="M767.66,696.00 L770.86,698.80 L774.06,696.00" stroke="#000" stroke-opacity="0.6" stroke-width="0.8" fill="none"/>
<use href="#gr" x="780.63" y="683.80" fill="#E6E6E6"/>
<path d="M786.23,696.00 L789.43,698.80 L792.63,696.00" stroke="#000" stroke-opacity="0.6" stroke-width="0.8" fill="none"/>
<text x="73.00" y="431.00" font-size="26.00" fill="#EAAB20" font-weight="normal" textLength="50.0" lengthAdjust="spacingAndGlyphs">71%</text>
<text x="267.00" y="431.00" font-size="26.00" fill="#676A42" font-weight="bold" textLength="51.0" lengthAdjust="spacingAndGlyphs">80%</text>
<text x="483.00" y="431.00" font-size="26.00" fill="#EAAB20" font-weight="bold" textLength="51.0" lengthAdjust="spacingAndGlyphs">73%</text>
<text x="685.00" y="431.00" font-size="26.00" fill="#676A42" font-weight="normal" textLength="51.0" lengthAdjust="spacingAndGlyphs">58%</text>
<text x="70.50" y="757.80" font-size="27.00" fill="#EAAB20" font-weight="bold" textLength="51.0" lengthAdjust="spacingAndGlyphs">74%</text>
<text x="273.00" y="757.80" font-size="27.00" fill="#676A42" font-weight="normal" textLength="50.0" lengthAdjust="spacingAndGlyphs">56%</text>
<text x="481.00" y="757.80" font-size="27.00" fill="#EAAB20" font-weight="bold" textLength="51.0" lengthAdjust="spacingAndGlyphs">41%</text>
<text x="684.00" y="757.80" font-size="27.00" fill="#676A42" font-weight="normal" textLength="50.0" lengthAdjust="spacingAndGlyphs">35%</text>
</svg>
</body></html>
